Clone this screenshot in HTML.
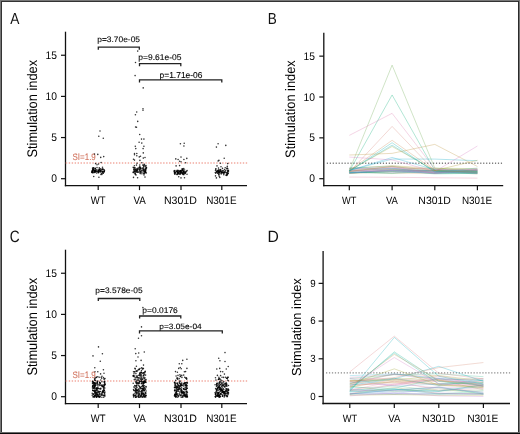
<!DOCTYPE html>
<html><head><meta charset="utf-8"><style>
html,body{margin:0;padding:0;background:#fff;}
svg{display:block;will-change:transform;}
text{font-family:"Liberation Sans",sans-serif;text-rendering:geometricPrecision;}
</style></head><body>
<svg width="520" height="434" viewBox="0 0 520 434">
<rect x="0" y="0" width="520" height="434" fill="#fff"/>
<rect x="0" y="0" width="520" height="2" fill="#777"/>
<rect x="0" y="1" width="520" height="1" fill="#333"/>
<rect x="0" y="0" width="2" height="434" fill="#777"/>
<rect x="1" y="1" width="1" height="433" fill="#333"/>
<rect x="518" y="0" width="2" height="434" fill="#777"/>
<rect x="518" y="1" width="1" height="433" fill="#2a2a2a"/>
<rect x="0" y="432" width="520" height="2" fill="#0a0a0a"/>
<rect x="0" y="432" width="520" height="1" fill="#6a6a6a"/>
<g font-family="Liberation Sans, sans-serif">
<line x1="65.50" y1="31.70" x2="65.50" y2="186.25" stroke="#111" stroke-width="1.3"/>
<line x1="64.85" y1="185.60" x2="247.00" y2="185.60" stroke="#111" stroke-width="1.3"/>
<line x1="61.00" y1="178.70" x2="65.50" y2="178.70" stroke="#111" stroke-width="1.2"/>
<text transform="translate(51.29 182.30) scale(0.930 1)" font-size="11.05" fill="#000">0</text>
<line x1="61.00" y1="137.55" x2="65.50" y2="137.55" stroke="#111" stroke-width="1.2"/>
<text transform="translate(51.32 141.15) scale(0.930 1)" font-size="11.05" fill="#000">5</text>
<line x1="61.00" y1="96.40" x2="65.50" y2="96.40" stroke="#111" stroke-width="1.2"/>
<text transform="translate(45.58 100.00) scale(0.930 1)" font-size="11.05" fill="#000">10</text>
<line x1="61.00" y1="55.25" x2="65.50" y2="55.25" stroke="#111" stroke-width="1.2"/>
<text transform="translate(45.61 58.85) scale(0.930 1)" font-size="11.05" fill="#000">15</text>
<line x1="98.20" y1="185.60" x2="98.20" y2="190.10" stroke="#111" stroke-width="1.2"/>
<text transform="translate(90.76 203.80) scale(0.877 1)" font-size="10.90" fill="#000">WT</text>
<line x1="139.50" y1="185.60" x2="139.50" y2="190.10" stroke="#111" stroke-width="1.2"/>
<text transform="translate(133.46 203.80) scale(0.900 1)" font-size="10.90" fill="#000">VA</text>
<line x1="181.00" y1="185.60" x2="181.00" y2="190.10" stroke="#111" stroke-width="1.2"/>
<text transform="translate(163.93 203.80) scale(0.969 1)" font-size="10.90" fill="#000">N301D</text>
<line x1="221.80" y1="185.60" x2="221.80" y2="190.10" stroke="#111" stroke-width="1.2"/>
<text transform="translate(206.19 203.80) scale(0.910 1)" font-size="10.90" fill="#000">N301E</text>
<text transform="translate(36.95 157.58) rotate(-90) scale(0.924 1)" font-size="13.88" fill="#000">Stimulation index</text>
<text transform="translate(10.37 23.70) scale(0.858 1)" font-size="15.99" fill="#111">A</text>
<line x1="65.50" y1="249.70" x2="65.50" y2="404.25" stroke="#111" stroke-width="1.3"/>
<line x1="64.85" y1="403.60" x2="247.00" y2="403.60" stroke="#111" stroke-width="1.3"/>
<line x1="61.00" y1="396.70" x2="65.50" y2="396.70" stroke="#111" stroke-width="1.2"/>
<text transform="translate(51.29 400.30) scale(0.930 1)" font-size="11.05" fill="#000">0</text>
<line x1="61.00" y1="355.55" x2="65.50" y2="355.55" stroke="#111" stroke-width="1.2"/>
<text transform="translate(51.32 359.15) scale(0.930 1)" font-size="11.05" fill="#000">5</text>
<line x1="61.00" y1="314.40" x2="65.50" y2="314.40" stroke="#111" stroke-width="1.2"/>
<text transform="translate(45.58 318.00) scale(0.930 1)" font-size="11.05" fill="#000">10</text>
<line x1="61.00" y1="273.25" x2="65.50" y2="273.25" stroke="#111" stroke-width="1.2"/>
<text transform="translate(45.61 276.85) scale(0.930 1)" font-size="11.05" fill="#000">15</text>
<line x1="98.20" y1="403.60" x2="98.20" y2="408.10" stroke="#111" stroke-width="1.2"/>
<text transform="translate(90.76 421.70) scale(0.888 1)" font-size="10.76" fill="#000">WT</text>
<line x1="139.50" y1="403.60" x2="139.50" y2="408.10" stroke="#111" stroke-width="1.2"/>
<text transform="translate(133.46 421.70) scale(0.912 1)" font-size="10.76" fill="#000">VA</text>
<line x1="181.00" y1="403.60" x2="181.00" y2="408.10" stroke="#111" stroke-width="1.2"/>
<text transform="translate(163.93 421.70) scale(0.982 1)" font-size="10.76" fill="#000">N301D</text>
<line x1="221.80" y1="403.60" x2="221.80" y2="408.10" stroke="#111" stroke-width="1.2"/>
<text transform="translate(206.19 421.70) scale(0.922 1)" font-size="10.76" fill="#000">N301E</text>
<text transform="translate(37.05 375.58) rotate(-90) scale(0.916 1)" font-size="14.01" fill="#000">Stimulation index</text>
<text transform="translate(9.80 241.70) scale(0.837 1)" font-size="16.42" fill="#111">C</text>
<line x1="323.80" y1="32.70" x2="323.80" y2="186.35" stroke="#111" stroke-width="1.3"/>
<line x1="323.15" y1="185.70" x2="503.20" y2="185.70" stroke="#111" stroke-width="1.3"/>
<line x1="319.30" y1="178.70" x2="323.80" y2="178.70" stroke="#111" stroke-width="1.2"/>
<text transform="translate(309.29 182.30) scale(0.930 1)" font-size="11.05" fill="#000">0</text>
<line x1="319.30" y1="137.85" x2="323.80" y2="137.85" stroke="#111" stroke-width="1.2"/>
<text transform="translate(309.32 141.45) scale(0.930 1)" font-size="11.05" fill="#000">5</text>
<line x1="319.30" y1="97.00" x2="323.80" y2="97.00" stroke="#111" stroke-width="1.2"/>
<text transform="translate(303.58 100.60) scale(0.930 1)" font-size="11.05" fill="#000">10</text>
<line x1="319.30" y1="56.15" x2="323.80" y2="56.15" stroke="#111" stroke-width="1.2"/>
<text transform="translate(303.61 59.75) scale(0.930 1)" font-size="11.05" fill="#000">15</text>
<line x1="349.30" y1="185.70" x2="349.30" y2="190.20" stroke="#111" stroke-width="1.2"/>
<text transform="translate(342.06 203.60) scale(0.870 1)" font-size="10.61" fill="#000">WT</text>
<line x1="392.10" y1="185.70" x2="392.10" y2="190.20" stroke="#111" stroke-width="1.2"/>
<text transform="translate(385.96 203.60) scale(0.894 1)" font-size="10.61" fill="#000">VA</text>
<line x1="434.80" y1="185.70" x2="434.80" y2="190.20" stroke="#111" stroke-width="1.2"/>
<text transform="translate(418.35 203.60) scale(0.983 1)" font-size="10.61" fill="#000">N301D</text>
<line x1="477.40" y1="185.70" x2="477.40" y2="190.20" stroke="#111" stroke-width="1.2"/>
<text transform="translate(461.89 203.60) scale(0.932 1)" font-size="10.61" fill="#000">N301E</text>
<text transform="translate(294.85 157.88) rotate(-90) scale(0.933 1)" font-size="13.74" fill="#000">Stimulation index</text>
<text transform="translate(267.69 23.70) scale(0.839 1)" font-size="16.13" fill="#111">B</text>
<line x1="323.10" y1="251.00" x2="323.10" y2="404.15" stroke="#111" stroke-width="1.3"/>
<line x1="322.45" y1="403.50" x2="510.00" y2="403.50" stroke="#111" stroke-width="1.3"/>
<line x1="318.60" y1="396.50" x2="323.10" y2="396.50" stroke="#111" stroke-width="1.2"/>
<text transform="translate(310.17 399.90) scale(0.930 1)" font-size="10.47" fill="#000">0</text>
<line x1="318.60" y1="358.79" x2="323.10" y2="358.79" stroke="#111" stroke-width="1.2"/>
<text transform="translate(310.22 362.19) scale(0.930 1)" font-size="10.47" fill="#000">3</text>
<line x1="318.60" y1="321.08" x2="323.10" y2="321.08" stroke="#111" stroke-width="1.2"/>
<text transform="translate(310.22 324.48) scale(0.930 1)" font-size="10.47" fill="#000">6</text>
<line x1="318.60" y1="283.37" x2="323.10" y2="283.37" stroke="#111" stroke-width="1.2"/>
<text transform="translate(310.25 286.77) scale(0.930 1)" font-size="10.47" fill="#000">9</text>
<line x1="349.80" y1="403.50" x2="349.80" y2="408.00" stroke="#111" stroke-width="1.2"/>
<text transform="translate(342.66 421.50) scale(0.876 1)" font-size="10.61" fill="#000">WT</text>
<line x1="394.30" y1="403.50" x2="394.30" y2="408.00" stroke="#111" stroke-width="1.2"/>
<text transform="translate(388.26 421.50) scale(0.909 1)" font-size="10.61" fill="#000">VA</text>
<line x1="438.80" y1="403.50" x2="438.80" y2="408.00" stroke="#111" stroke-width="1.2"/>
<text transform="translate(422.03 421.50) scale(1.002 1)" font-size="10.61" fill="#000">N301D</text>
<line x1="483.40" y1="403.50" x2="483.40" y2="408.00" stroke="#111" stroke-width="1.2"/>
<text transform="translate(467.16 421.50) scale(0.961 1)" font-size="10.61" fill="#000">N301E</text>
<text transform="translate(301.26 375.98) rotate(-90) scale(0.983 1)" font-size="13.06" fill="#000">Stimulation index</text>
<text transform="translate(267.51 241.70) scale(0.956 1)" font-size="16.42" fill="#111">D</text>
<path d="M65.80 162.30h1.4v1.4h-1.4zM68.75 162.30h1.4v1.4h-1.4zM71.70 162.30h1.4v1.4h-1.4zM74.65 162.30h1.4v1.4h-1.4zM77.60 162.30h1.4v1.4h-1.4zM80.55 162.30h1.4v1.4h-1.4zM83.50 162.30h1.4v1.4h-1.4zM86.45 162.30h1.4v1.4h-1.4zM89.40 162.30h1.4v1.4h-1.4zM92.35 162.30h1.4v1.4h-1.4zM95.30 162.30h1.4v1.4h-1.4zM98.25 162.30h1.4v1.4h-1.4zM101.20 162.30h1.4v1.4h-1.4zM104.15 162.30h1.4v1.4h-1.4zM107.10 162.30h1.4v1.4h-1.4zM110.05 162.30h1.4v1.4h-1.4zM113.00 162.30h1.4v1.4h-1.4zM115.95 162.30h1.4v1.4h-1.4zM118.90 162.30h1.4v1.4h-1.4zM121.85 162.30h1.4v1.4h-1.4zM124.80 162.30h1.4v1.4h-1.4zM127.75 162.30h1.4v1.4h-1.4zM130.70 162.30h1.4v1.4h-1.4zM133.65 162.30h1.4v1.4h-1.4zM136.60 162.30h1.4v1.4h-1.4zM139.55 162.30h1.4v1.4h-1.4zM142.50 162.30h1.4v1.4h-1.4zM145.45 162.30h1.4v1.4h-1.4zM148.40 162.30h1.4v1.4h-1.4zM151.35 162.30h1.4v1.4h-1.4zM154.30 162.30h1.4v1.4h-1.4zM157.25 162.30h1.4v1.4h-1.4zM160.20 162.30h1.4v1.4h-1.4zM163.15 162.30h1.4v1.4h-1.4zM166.10 162.30h1.4v1.4h-1.4zM169.05 162.30h1.4v1.4h-1.4zM172.00 162.30h1.4v1.4h-1.4zM174.95 162.30h1.4v1.4h-1.4zM177.90 162.30h1.4v1.4h-1.4zM180.85 162.30h1.4v1.4h-1.4zM183.80 162.30h1.4v1.4h-1.4zM186.75 162.30h1.4v1.4h-1.4zM189.70 162.30h1.4v1.4h-1.4zM192.65 162.30h1.4v1.4h-1.4zM195.60 162.30h1.4v1.4h-1.4zM198.55 162.30h1.4v1.4h-1.4zM201.50 162.30h1.4v1.4h-1.4zM204.45 162.30h1.4v1.4h-1.4zM207.40 162.30h1.4v1.4h-1.4zM210.35 162.30h1.4v1.4h-1.4zM213.30 162.30h1.4v1.4h-1.4zM216.25 162.30h1.4v1.4h-1.4zM219.20 162.30h1.4v1.4h-1.4zM222.15 162.30h1.4v1.4h-1.4zM225.10 162.30h1.4v1.4h-1.4zM228.05 162.30h1.4v1.4h-1.4zM231.00 162.30h1.4v1.4h-1.4zM233.95 162.30h1.4v1.4h-1.4zM236.90 162.30h1.4v1.4h-1.4zM239.85 162.30h1.4v1.4h-1.4zM242.80 162.30h1.4v1.4h-1.4zM245.75 162.30h1.4v1.4h-1.4z" fill="#f2aaa0" opacity="1.0"/>
<path d="M65.80 380.30h1.4v1.4h-1.4zM68.75 380.30h1.4v1.4h-1.4zM71.70 380.30h1.4v1.4h-1.4zM74.65 380.30h1.4v1.4h-1.4zM77.60 380.30h1.4v1.4h-1.4zM80.55 380.30h1.4v1.4h-1.4zM83.50 380.30h1.4v1.4h-1.4zM86.45 380.30h1.4v1.4h-1.4zM89.40 380.30h1.4v1.4h-1.4zM92.35 380.30h1.4v1.4h-1.4zM95.30 380.30h1.4v1.4h-1.4zM98.25 380.30h1.4v1.4h-1.4zM101.20 380.30h1.4v1.4h-1.4zM104.15 380.30h1.4v1.4h-1.4zM107.10 380.30h1.4v1.4h-1.4zM110.05 380.30h1.4v1.4h-1.4zM113.00 380.30h1.4v1.4h-1.4zM115.95 380.30h1.4v1.4h-1.4zM118.90 380.30h1.4v1.4h-1.4zM121.85 380.30h1.4v1.4h-1.4zM124.80 380.30h1.4v1.4h-1.4zM127.75 380.30h1.4v1.4h-1.4zM130.70 380.30h1.4v1.4h-1.4zM133.65 380.30h1.4v1.4h-1.4zM136.60 380.30h1.4v1.4h-1.4zM139.55 380.30h1.4v1.4h-1.4zM142.50 380.30h1.4v1.4h-1.4zM145.45 380.30h1.4v1.4h-1.4zM148.40 380.30h1.4v1.4h-1.4zM151.35 380.30h1.4v1.4h-1.4zM154.30 380.30h1.4v1.4h-1.4zM157.25 380.30h1.4v1.4h-1.4zM160.20 380.30h1.4v1.4h-1.4zM163.15 380.30h1.4v1.4h-1.4zM166.10 380.30h1.4v1.4h-1.4zM169.05 380.30h1.4v1.4h-1.4zM172.00 380.30h1.4v1.4h-1.4zM174.95 380.30h1.4v1.4h-1.4zM177.90 380.30h1.4v1.4h-1.4zM180.85 380.30h1.4v1.4h-1.4zM183.80 380.30h1.4v1.4h-1.4zM186.75 380.30h1.4v1.4h-1.4zM189.70 380.30h1.4v1.4h-1.4zM192.65 380.30h1.4v1.4h-1.4zM195.60 380.30h1.4v1.4h-1.4zM198.55 380.30h1.4v1.4h-1.4zM201.50 380.30h1.4v1.4h-1.4zM204.45 380.30h1.4v1.4h-1.4zM207.40 380.30h1.4v1.4h-1.4zM210.35 380.30h1.4v1.4h-1.4zM213.30 380.30h1.4v1.4h-1.4zM216.25 380.30h1.4v1.4h-1.4zM219.20 380.30h1.4v1.4h-1.4zM222.15 380.30h1.4v1.4h-1.4zM225.10 380.30h1.4v1.4h-1.4zM228.05 380.30h1.4v1.4h-1.4zM231.00 380.30h1.4v1.4h-1.4zM233.95 380.30h1.4v1.4h-1.4zM236.90 380.30h1.4v1.4h-1.4zM239.85 380.30h1.4v1.4h-1.4zM242.80 380.30h1.4v1.4h-1.4zM245.75 380.30h1.4v1.4h-1.4z" fill="#f2aaa0" opacity="1.0"/>
<path d="M326.80 162.62h1.2v1.35h-1.2zM329.75 162.62h1.2v1.35h-1.2zM332.70 162.62h1.2v1.35h-1.2zM335.65 162.62h1.2v1.35h-1.2zM338.60 162.62h1.2v1.35h-1.2zM341.55 162.62h1.2v1.35h-1.2zM344.50 162.62h1.2v1.35h-1.2zM347.45 162.62h1.2v1.35h-1.2zM350.40 162.62h1.2v1.35h-1.2zM353.35 162.62h1.2v1.35h-1.2zM356.30 162.62h1.2v1.35h-1.2zM359.25 162.62h1.2v1.35h-1.2zM362.20 162.62h1.2v1.35h-1.2zM365.15 162.62h1.2v1.35h-1.2zM368.10 162.62h1.2v1.35h-1.2zM371.05 162.62h1.2v1.35h-1.2zM374.00 162.62h1.2v1.35h-1.2zM376.95 162.62h1.2v1.35h-1.2zM379.90 162.62h1.2v1.35h-1.2zM382.85 162.62h1.2v1.35h-1.2zM385.80 162.62h1.2v1.35h-1.2zM388.75 162.62h1.2v1.35h-1.2zM391.70 162.62h1.2v1.35h-1.2zM394.65 162.62h1.2v1.35h-1.2zM397.60 162.62h1.2v1.35h-1.2zM400.55 162.62h1.2v1.35h-1.2zM403.50 162.62h1.2v1.35h-1.2zM406.45 162.62h1.2v1.35h-1.2zM409.40 162.62h1.2v1.35h-1.2zM412.35 162.62h1.2v1.35h-1.2zM415.30 162.62h1.2v1.35h-1.2zM418.25 162.62h1.2v1.35h-1.2zM421.20 162.62h1.2v1.35h-1.2zM424.15 162.62h1.2v1.35h-1.2zM427.10 162.62h1.2v1.35h-1.2zM430.05 162.62h1.2v1.35h-1.2zM433.00 162.62h1.2v1.35h-1.2zM435.95 162.62h1.2v1.35h-1.2zM438.90 162.62h1.2v1.35h-1.2zM441.85 162.62h1.2v1.35h-1.2zM444.80 162.62h1.2v1.35h-1.2zM447.75 162.62h1.2v1.35h-1.2zM450.70 162.62h1.2v1.35h-1.2zM453.65 162.62h1.2v1.35h-1.2zM456.60 162.62h1.2v1.35h-1.2zM459.55 162.62h1.2v1.35h-1.2zM462.50 162.62h1.2v1.35h-1.2zM465.45 162.62h1.2v1.35h-1.2zM468.40 162.62h1.2v1.35h-1.2zM471.35 162.62h1.2v1.35h-1.2zM474.30 162.62h1.2v1.35h-1.2zM477.25 162.62h1.2v1.35h-1.2zM480.20 162.62h1.2v1.35h-1.2zM483.15 162.62h1.2v1.35h-1.2zM486.10 162.62h1.2v1.35h-1.2zM489.05 162.62h1.2v1.35h-1.2zM492.00 162.62h1.2v1.35h-1.2zM494.95 162.62h1.2v1.35h-1.2zM497.90 162.62h1.2v1.35h-1.2zM500.85 162.62h1.2v1.35h-1.2z" fill="#7e7e7e" opacity="1.0"/>
<path d="M326.00 372.22h1.25v1.35h-1.25zM328.95 372.22h1.25v1.35h-1.25zM331.90 372.22h1.25v1.35h-1.25zM334.85 372.22h1.25v1.35h-1.25zM337.80 372.22h1.25v1.35h-1.25zM340.75 372.22h1.25v1.35h-1.25zM343.70 372.22h1.25v1.35h-1.25zM346.65 372.22h1.25v1.35h-1.25zM349.60 372.22h1.25v1.35h-1.25zM352.55 372.22h1.25v1.35h-1.25zM355.50 372.22h1.25v1.35h-1.25zM358.45 372.22h1.25v1.35h-1.25zM361.40 372.22h1.25v1.35h-1.25zM364.35 372.22h1.25v1.35h-1.25zM367.30 372.22h1.25v1.35h-1.25zM370.25 372.22h1.25v1.35h-1.25zM373.20 372.22h1.25v1.35h-1.25zM376.15 372.22h1.25v1.35h-1.25zM379.10 372.22h1.25v1.35h-1.25zM382.05 372.22h1.25v1.35h-1.25zM385.00 372.22h1.25v1.35h-1.25zM387.95 372.22h1.25v1.35h-1.25zM390.90 372.22h1.25v1.35h-1.25zM393.85 372.22h1.25v1.35h-1.25zM396.80 372.22h1.25v1.35h-1.25zM399.75 372.22h1.25v1.35h-1.25zM402.70 372.22h1.25v1.35h-1.25zM405.65 372.22h1.25v1.35h-1.25zM408.60 372.22h1.25v1.35h-1.25zM411.55 372.22h1.25v1.35h-1.25zM414.50 372.22h1.25v1.35h-1.25zM417.45 372.22h1.25v1.35h-1.25zM420.40 372.22h1.25v1.35h-1.25zM423.35 372.22h1.25v1.35h-1.25zM426.30 372.22h1.25v1.35h-1.25zM429.25 372.22h1.25v1.35h-1.25zM432.20 372.22h1.25v1.35h-1.25zM435.15 372.22h1.25v1.35h-1.25zM438.10 372.22h1.25v1.35h-1.25zM441.05 372.22h1.25v1.35h-1.25zM444.00 372.22h1.25v1.35h-1.25zM446.95 372.22h1.25v1.35h-1.25zM449.90 372.22h1.25v1.35h-1.25zM452.85 372.22h1.25v1.35h-1.25zM455.80 372.22h1.25v1.35h-1.25zM458.75 372.22h1.25v1.35h-1.25zM461.70 372.22h1.25v1.35h-1.25zM464.65 372.22h1.25v1.35h-1.25zM467.60 372.22h1.25v1.35h-1.25zM470.55 372.22h1.25v1.35h-1.25zM473.50 372.22h1.25v1.35h-1.25zM476.45 372.22h1.25v1.35h-1.25zM479.40 372.22h1.25v1.35h-1.25zM482.35 372.22h1.25v1.35h-1.25zM485.30 372.22h1.25v1.35h-1.25zM488.25 372.22h1.25v1.35h-1.25zM491.20 372.22h1.25v1.35h-1.25zM494.15 372.22h1.25v1.35h-1.25zM497.10 372.22h1.25v1.35h-1.25zM500.05 372.22h1.25v1.35h-1.25zM503.00 372.22h1.25v1.35h-1.25zM505.95 372.22h1.25v1.35h-1.25zM508.90 372.22h1.25v1.35h-1.25z" fill="#8a8a8a" opacity="1.0"/>
<text transform="translate(72.54 160.30) scale(0.856 1)" font-size="9.30" fill="#d27560" stroke="#d27560" stroke-width="0.1">SI=1.9</text>
<text transform="translate(72.54 378.30) scale(0.856 1)" font-size="9.30" fill="#d27560" stroke="#d27560" stroke-width="0.1">SI=1.9</text>
<path d="M98.30 49.70V47.10H139.30V49.70" fill="none" stroke="#222" stroke-width="1.3"/>
<path d="M139.50 66.20V63.60H180.80V66.20" fill="none" stroke="#222" stroke-width="1.3"/>
<path d="M139.50 82.50V79.90H221.80V82.50" fill="none" stroke="#222" stroke-width="1.3"/>
<text transform="translate(97.26 42.10) scale(1.052 1)" font-size="7.99" fill="#000" stroke="#000" stroke-width="0.1">p=3.70e-05</text>
<text transform="translate(138.36 60.30) scale(1.025 1)" font-size="8.28" fill="#000" stroke="#000" stroke-width="0.1">p=9.61e-05</text>
<text transform="translate(159.56 77.70) scale(0.983 1)" font-size="8.58" fill="#000" stroke="#000" stroke-width="0.1">p=1.71e-06</text>
<path d="M98.30 301.10V298.50H139.80V301.10" fill="none" stroke="#222" stroke-width="1.3"/>
<path d="M139.60 318.60V316.00H180.80V318.60" fill="none" stroke="#222" stroke-width="1.3"/>
<path d="M139.50 333.40V330.80H222.30V333.40" fill="none" stroke="#222" stroke-width="1.3"/>
<text transform="translate(95.36 293.20) scale(1.048 1)" font-size="7.99" fill="#000" stroke="#000" stroke-width="0.1">p=3.578e-05</text>
<text transform="translate(142.36 312.70) scale(1.021 1)" font-size="8.28" fill="#000" stroke="#000" stroke-width="0.1">p=0.0176</text>
<text transform="translate(159.27 328.90) scale(1.084 1)" font-size="7.70" fill="#000" stroke="#000" stroke-width="0.1">p=3.05e-04</text>
<g fill="#000" fill-opacity="0.8"><circle cx="100.0" cy="131.0" r="0.78"/><circle cx="98.8" cy="136.2" r="0.78"/><circle cx="103.3" cy="138.3" r="0.78"/><circle cx="94.5" cy="154.0" r="0.78"/><circle cx="97.8" cy="154.4" r="0.78"/><circle cx="100.7" cy="157.4" r="0.78"/><circle cx="103.7" cy="156.6" r="0.78"/><circle cx="101.1" cy="162.5" r="0.78"/><circle cx="95.6" cy="163.6" r="0.78"/><circle cx="97.0" cy="164.7" r="0.78"/><circle cx="98.5" cy="164.0" r="0.78"/><circle cx="93.7" cy="176.5" r="0.78"/><circle cx="98.9" cy="177.2" r="0.78"/><circle cx="137.7" cy="51.1" r="0.78"/><circle cx="135.5" cy="62.5" r="0.78"/><circle cx="135.1" cy="75.6" r="0.78"/><circle cx="143.2" cy="87.9" r="0.78"/><circle cx="143.0" cy="108.7" r="0.78"/><circle cx="143.0" cy="110.3" r="0.78"/><circle cx="136.7" cy="112.0" r="0.78"/><circle cx="135.4" cy="114.7" r="0.78"/><circle cx="137.7" cy="121.4" r="0.78"/><circle cx="135.6" cy="127.0" r="0.78"/><circle cx="136.5" cy="127.3" r="0.78"/><circle cx="139.7" cy="134.5" r="0.78"/><circle cx="141.5" cy="139.1" r="0.78"/><circle cx="143.9" cy="139.1" r="0.78"/><circle cx="139.1" cy="142.2" r="0.78"/><circle cx="141.8" cy="143.1" r="0.78"/><circle cx="135.3" cy="146.3" r="0.78"/><circle cx="143.9" cy="146.3" r="0.78"/><circle cx="135.8" cy="148.6" r="0.78"/><circle cx="143.1" cy="148.6" r="0.78"/><circle cx="143.3" cy="152.9" r="0.78"/><circle cx="134.5" cy="153.5" r="0.78"/><circle cx="136.8" cy="153.5" r="0.78"/><circle cx="134.5" cy="154.8" r="0.78"/><circle cx="136.8" cy="155.8" r="0.78"/><circle cx="139.3" cy="156.9" r="0.78"/><circle cx="140.5" cy="156.3" r="0.78"/><circle cx="143.3" cy="158.1" r="0.78"/><circle cx="145.0" cy="157.5" r="0.78"/><circle cx="133.5" cy="159.2" r="0.78"/><circle cx="134.5" cy="160.1" r="0.78"/><circle cx="139.9" cy="160.4" r="0.78"/><circle cx="137.0" cy="163.3" r="0.78"/><circle cx="141.8" cy="162.7" r="0.78"/><circle cx="133.5" cy="177.4" r="0.78"/><circle cx="137.6" cy="177.7" r="0.78"/><circle cx="145.0" cy="177.1" r="0.78"/><circle cx="180.4" cy="143.7" r="0.78"/><circle cx="184.2" cy="143.3" r="0.78"/><circle cx="183.9" cy="146.0" r="0.78"/><circle cx="181.0" cy="157.1" r="0.78"/><circle cx="175.8" cy="158.9" r="0.78"/><circle cx="178.1" cy="159.5" r="0.78"/><circle cx="183.9" cy="159.5" r="0.78"/><circle cx="186.8" cy="158.4" r="0.78"/><circle cx="179.6" cy="161.3" r="0.78"/><circle cx="181.0" cy="161.8" r="0.78"/><circle cx="185.6" cy="162.7" r="0.78"/><circle cx="176.1" cy="165.9" r="0.78"/><circle cx="179.6" cy="165.6" r="0.78"/><circle cx="181.0" cy="177.9" r="0.78"/><circle cx="184.5" cy="177.7" r="0.78"/><circle cx="178.7" cy="176.8" r="0.78"/><circle cx="218.1" cy="143.7" r="0.78"/><circle cx="216.4" cy="147.1" r="0.78"/><circle cx="225.8" cy="145.4" r="0.78"/><circle cx="224.2" cy="158.3" r="0.78"/><circle cx="218.1" cy="161.0" r="0.78"/><circle cx="218.9" cy="160.4" r="0.78"/><circle cx="220.4" cy="163.3" r="0.78"/><circle cx="227.7" cy="163.6" r="0.78"/><circle cx="217.0" cy="165.9" r="0.78"/><circle cx="221.0" cy="166.7" r="0.78"/><circle cx="227.3" cy="166.4" r="0.78"/><circle cx="216.4" cy="177.9" r="0.78"/><circle cx="219.8" cy="177.4" r="0.78"/><circle cx="98.5" cy="346.9" r="0.78"/><circle cx="93.0" cy="355.9" r="0.78"/><circle cx="102.4" cy="353.8" r="0.78"/><circle cx="100.3" cy="361.2" r="0.78"/><circle cx="94.8" cy="367.7" r="0.78"/><circle cx="103.4" cy="369.7" r="0.78"/><circle cx="95.0" cy="371.8" r="0.78"/><circle cx="97.8" cy="371.8" r="0.78"/><circle cx="100.6" cy="373.9" r="0.78"/><circle cx="104.0" cy="373.2" r="0.78"/><circle cx="97.8" cy="376.7" r="0.78"/><circle cx="99.2" cy="377.3" r="0.78"/><circle cx="102.0" cy="376.2" r="0.78"/><circle cx="142.9" cy="307.5" r="0.78"/><circle cx="141.5" cy="326.9" r="0.78"/><circle cx="141.5" cy="335.8" r="0.78"/><circle cx="138.5" cy="338.2" r="0.78"/><circle cx="135.2" cy="348.7" r="0.78"/><circle cx="135.8" cy="353.6" r="0.78"/><circle cx="138.7" cy="353.0" r="0.78"/><circle cx="144.3" cy="352.0" r="0.78"/><circle cx="138.0" cy="357.0" r="0.78"/><circle cx="135.9" cy="360.7" r="0.78"/><circle cx="141.1" cy="360.4" r="0.78"/><circle cx="136.4" cy="366.2" r="0.78"/><circle cx="143.5" cy="365.1" r="0.78"/><circle cx="140.0" cy="368.5" r="0.78"/><circle cx="141.6" cy="367.9" r="0.78"/><circle cx="145.2" cy="371.4" r="0.78"/><circle cx="186.9" cy="359.3" r="0.78"/><circle cx="182.7" cy="360.4" r="0.78"/><circle cx="179.3" cy="363.7" r="0.78"/><circle cx="181.8" cy="363.7" r="0.78"/><circle cx="178.7" cy="368.4" r="0.78"/><circle cx="180.2" cy="367.5" r="0.78"/><circle cx="181.2" cy="368.8" r="0.78"/><circle cx="186.9" cy="368.4" r="0.78"/><circle cx="175.5" cy="371.6" r="0.78"/><circle cx="177.4" cy="372.2" r="0.78"/><circle cx="184.4" cy="371.8" r="0.78"/><circle cx="185.6" cy="371.6" r="0.78"/><circle cx="176.1" cy="376.0" r="0.78"/><circle cx="178.0" cy="375.4" r="0.78"/><circle cx="179.9" cy="374.7" r="0.78"/><circle cx="181.8" cy="375.4" r="0.78"/><circle cx="183.7" cy="375.1" r="0.78"/><circle cx="225.0" cy="352.6" r="0.78"/><circle cx="218.7" cy="358.3" r="0.78"/><circle cx="219.9" cy="360.8" r="0.78"/><circle cx="225.0" cy="361.5" r="0.78"/><circle cx="216.8" cy="369.0" r="0.78"/><circle cx="219.7" cy="368.4" r="0.78"/><circle cx="226.3" cy="369.0" r="0.78"/><circle cx="228.2" cy="366.5" r="0.78"/><circle cx="220.6" cy="371.6" r="0.78"/><circle cx="222.7" cy="371.8" r="0.78"/><circle cx="224.4" cy="374.1" r="0.78"/><circle cx="217.4" cy="375.4" r="0.78"/><circle cx="220.6" cy="375.6" r="0.78"/><circle cx="228.2" cy="377.3" r="0.78"/><circle cx="100.3" cy="170.3" r="0.78"/><circle cx="92.7" cy="171.7" r="0.78"/><circle cx="92.6" cy="169.1" r="0.78"/><circle cx="98.4" cy="170.4" r="0.78"/><circle cx="92.7" cy="172.7" r="0.78"/><circle cx="93.0" cy="171.3" r="0.78"/><circle cx="93.4" cy="167.8" r="0.78"/><circle cx="94.7" cy="172.4" r="0.78"/><circle cx="99.3" cy="167.7" r="0.78"/><circle cx="97.0" cy="167.6" r="0.78"/><circle cx="103.0" cy="171.4" r="0.78"/><circle cx="95.6" cy="170.7" r="0.78"/><circle cx="95.8" cy="171.4" r="0.78"/><circle cx="102.4" cy="171.5" r="0.78"/><circle cx="100.1" cy="171.8" r="0.78"/><circle cx="96.6" cy="173.0" r="0.78"/><circle cx="92.6" cy="170.2" r="0.78"/><circle cx="94.5" cy="170.6" r="0.78"/><circle cx="95.9" cy="170.0" r="0.78"/><circle cx="99.4" cy="169.1" r="0.78"/><circle cx="102.1" cy="169.3" r="0.78"/><circle cx="100.9" cy="171.2" r="0.78"/><circle cx="98.6" cy="170.9" r="0.78"/><circle cx="103.2" cy="173.2" r="0.78"/><circle cx="104.5" cy="170.6" r="0.78"/><circle cx="93.3" cy="169.3" r="0.78"/><circle cx="93.8" cy="168.1" r="0.78"/><circle cx="98.2" cy="172.3" r="0.78"/><circle cx="101.7" cy="173.4" r="0.78"/><circle cx="99.2" cy="171.5" r="0.78"/><circle cx="100.8" cy="171.9" r="0.78"/><circle cx="99.5" cy="169.7" r="0.78"/><circle cx="102.7" cy="169.0" r="0.78"/><circle cx="104.1" cy="169.8" r="0.78"/><circle cx="92.6" cy="168.1" r="0.78"/><circle cx="100.9" cy="171.2" r="0.78"/><circle cx="102.5" cy="167.3" r="0.78"/><circle cx="100.5" cy="170.4" r="0.78"/><circle cx="92.1" cy="172.6" r="0.78"/><circle cx="93.3" cy="169.7" r="0.78"/><circle cx="92.6" cy="171.1" r="0.78"/><circle cx="95.0" cy="170.9" r="0.78"/><circle cx="96.9" cy="169.8" r="0.78"/><circle cx="97.6" cy="171.3" r="0.78"/><circle cx="98.9" cy="170.3" r="0.78"/><circle cx="103.0" cy="173.3" r="0.78"/><circle cx="95.4" cy="168.5" r="0.78"/><circle cx="103.3" cy="169.3" r="0.78"/><circle cx="104.3" cy="171.7" r="0.78"/><circle cx="94.8" cy="171.5" r="0.78"/><circle cx="94.8" cy="171.7" r="0.78"/><circle cx="95.2" cy="168.4" r="0.78"/><circle cx="91.9" cy="171.0" r="0.78"/><circle cx="99.2" cy="169.3" r="0.78"/><circle cx="104.2" cy="171.7" r="0.78"/><circle cx="99.8" cy="170.0" r="0.78"/><circle cx="100.6" cy="168.8" r="0.78"/><circle cx="101.9" cy="174.5" r="0.78"/><circle cx="103.2" cy="172.1" r="0.78"/><circle cx="97.0" cy="171.3" r="0.78"/><circle cx="93.1" cy="169.1" r="0.78"/><circle cx="92.7" cy="170.4" r="0.78"/><circle cx="94.5" cy="170.3" r="0.78"/><circle cx="92.5" cy="171.7" r="0.78"/><circle cx="91.8" cy="172.2" r="0.78"/><circle cx="96.5" cy="171.3" r="0.78"/><circle cx="92.1" cy="171.5" r="0.78"/><circle cx="93.7" cy="172.6" r="0.78"/><circle cx="95.1" cy="169.0" r="0.78"/><circle cx="93.4" cy="169.8" r="0.78"/><circle cx="102.8" cy="172.2" r="0.78"/><circle cx="98.1" cy="172.8" r="0.78"/><circle cx="92.9" cy="170.7" r="0.78"/><circle cx="95.2" cy="172.1" r="0.78"/><circle cx="102.6" cy="171.8" r="0.78"/><circle cx="104.2" cy="171.0" r="0.78"/><circle cx="98.7" cy="171.1" r="0.78"/><circle cx="92.2" cy="172.2" r="0.78"/><circle cx="98.7" cy="172.6" r="0.78"/><circle cx="100.9" cy="174.4" r="0.78"/><circle cx="95.2" cy="170.3" r="0.78"/><circle cx="101.8" cy="170.1" r="0.78"/><circle cx="98.7" cy="171.6" r="0.78"/><circle cx="94.7" cy="171.1" r="0.78"/><circle cx="102.3" cy="169.2" r="0.78"/><circle cx="144.0" cy="174.9" r="0.78"/><circle cx="144.1" cy="169.5" r="0.78"/><circle cx="140.0" cy="169.9" r="0.78"/><circle cx="137.8" cy="168.2" r="0.78"/><circle cx="136.8" cy="170.6" r="0.78"/><circle cx="136.5" cy="170.1" r="0.78"/><circle cx="139.1" cy="167.8" r="0.78"/><circle cx="146.0" cy="167.1" r="0.78"/><circle cx="136.1" cy="168.8" r="0.78"/><circle cx="135.7" cy="171.3" r="0.78"/><circle cx="145.2" cy="171.0" r="0.78"/><circle cx="144.4" cy="173.4" r="0.78"/><circle cx="143.9" cy="166.4" r="0.78"/><circle cx="134.2" cy="170.5" r="0.78"/><circle cx="143.6" cy="167.1" r="0.78"/><circle cx="143.2" cy="165.3" r="0.78"/><circle cx="143.7" cy="168.4" r="0.78"/><circle cx="137.5" cy="170.2" r="0.78"/><circle cx="138.4" cy="172.1" r="0.78"/><circle cx="142.9" cy="165.0" r="0.78"/><circle cx="135.3" cy="173.5" r="0.78"/><circle cx="145.3" cy="171.0" r="0.78"/><circle cx="144.0" cy="171.0" r="0.78"/><circle cx="146.3" cy="172.9" r="0.78"/><circle cx="141.9" cy="173.8" r="0.78"/><circle cx="134.8" cy="168.1" r="0.78"/><circle cx="133.2" cy="172.6" r="0.78"/><circle cx="140.2" cy="173.6" r="0.78"/><circle cx="145.7" cy="169.3" r="0.78"/><circle cx="144.2" cy="165.3" r="0.78"/><circle cx="135.9" cy="172.1" r="0.78"/><circle cx="136.3" cy="170.0" r="0.78"/><circle cx="141.0" cy="172.1" r="0.78"/><circle cx="134.8" cy="169.8" r="0.78"/><circle cx="145.4" cy="172.6" r="0.78"/><circle cx="140.9" cy="168.3" r="0.78"/><circle cx="145.3" cy="172.2" r="0.78"/><circle cx="139.8" cy="165.1" r="0.78"/><circle cx="140.2" cy="172.7" r="0.78"/><circle cx="139.0" cy="169.5" r="0.78"/><circle cx="135.5" cy="169.9" r="0.78"/><circle cx="135.3" cy="174.5" r="0.78"/><circle cx="139.4" cy="170.1" r="0.78"/><circle cx="137.4" cy="169.5" r="0.78"/><circle cx="140.0" cy="166.8" r="0.78"/><circle cx="134.4" cy="165.8" r="0.78"/><circle cx="140.6" cy="168.5" r="0.78"/><circle cx="143.5" cy="170.0" r="0.78"/><circle cx="139.9" cy="172.0" r="0.78"/><circle cx="145.4" cy="166.1" r="0.78"/><circle cx="139.0" cy="168.4" r="0.78"/><circle cx="140.0" cy="167.7" r="0.78"/><circle cx="142.4" cy="168.1" r="0.78"/><circle cx="139.5" cy="167.0" r="0.78"/><circle cx="145.8" cy="170.9" r="0.78"/><circle cx="145.8" cy="168.4" r="0.78"/><circle cx="136.5" cy="165.1" r="0.78"/><circle cx="144.4" cy="164.4" r="0.78"/><circle cx="134.9" cy="167.8" r="0.78"/><circle cx="134.0" cy="172.0" r="0.78"/><circle cx="136.3" cy="171.9" r="0.78"/><circle cx="143.7" cy="173.4" r="0.78"/><circle cx="145.2" cy="171.7" r="0.78"/><circle cx="142.0" cy="172.3" r="0.78"/><circle cx="134.9" cy="173.3" r="0.78"/><circle cx="136.0" cy="174.9" r="0.78"/><circle cx="146.0" cy="165.6" r="0.78"/><circle cx="146.5" cy="167.7" r="0.78"/><circle cx="144.3" cy="171.7" r="0.78"/><circle cx="140.0" cy="171.4" r="0.78"/><circle cx="137.6" cy="172.3" r="0.78"/><circle cx="142.8" cy="170.7" r="0.78"/><circle cx="133.3" cy="172.1" r="0.78"/><circle cx="133.2" cy="167.4" r="0.78"/><circle cx="137.5" cy="169.1" r="0.78"/><circle cx="133.9" cy="167.8" r="0.78"/><circle cx="146.4" cy="167.9" r="0.78"/><circle cx="134.4" cy="171.6" r="0.78"/><circle cx="143.6" cy="169.9" r="0.78"/><circle cx="136.7" cy="170.7" r="0.78"/><circle cx="145.4" cy="171.8" r="0.78"/><circle cx="144.1" cy="171.9" r="0.78"/><circle cx="145.5" cy="169.9" r="0.78"/><circle cx="140.8" cy="171.4" r="0.78"/><circle cx="133.8" cy="169.7" r="0.78"/><circle cx="142.4" cy="169.0" r="0.78"/><circle cx="145.8" cy="169.1" r="0.78"/><circle cx="141.6" cy="170.4" r="0.78"/><circle cx="144.6" cy="170.3" r="0.78"/><circle cx="133.9" cy="169.0" r="0.78"/><circle cx="137.6" cy="171.8" r="0.78"/><circle cx="140.5" cy="167.9" r="0.78"/><circle cx="134.8" cy="171.8" r="0.78"/><circle cx="140.2" cy="169.1" r="0.78"/><circle cx="135.2" cy="170.1" r="0.78"/><circle cx="174.9" cy="172.6" r="0.78"/><circle cx="178.2" cy="172.2" r="0.78"/><circle cx="184.1" cy="173.2" r="0.78"/><circle cx="176.5" cy="171.3" r="0.78"/><circle cx="178.7" cy="173.8" r="0.78"/><circle cx="174.4" cy="173.1" r="0.78"/><circle cx="183.8" cy="172.0" r="0.78"/><circle cx="180.4" cy="170.7" r="0.78"/><circle cx="186.4" cy="171.4" r="0.78"/><circle cx="179.9" cy="174.3" r="0.78"/><circle cx="180.7" cy="173.8" r="0.78"/><circle cx="180.8" cy="172.7" r="0.78"/><circle cx="183.2" cy="170.3" r="0.78"/><circle cx="185.1" cy="173.4" r="0.78"/><circle cx="183.5" cy="171.6" r="0.78"/><circle cx="178.8" cy="170.6" r="0.78"/><circle cx="174.9" cy="170.5" r="0.78"/><circle cx="183.9" cy="172.3" r="0.78"/><circle cx="177.5" cy="172.3" r="0.78"/><circle cx="185.2" cy="172.2" r="0.78"/><circle cx="185.6" cy="172.4" r="0.78"/><circle cx="177.4" cy="171.1" r="0.78"/><circle cx="178.0" cy="170.6" r="0.78"/><circle cx="180.0" cy="170.8" r="0.78"/><circle cx="177.6" cy="172.1" r="0.78"/><circle cx="181.4" cy="170.7" r="0.78"/><circle cx="178.3" cy="172.0" r="0.78"/><circle cx="179.2" cy="171.8" r="0.78"/><circle cx="180.4" cy="171.9" r="0.78"/><circle cx="180.8" cy="170.6" r="0.78"/><circle cx="174.3" cy="171.8" r="0.78"/><circle cx="179.4" cy="171.7" r="0.78"/><circle cx="174.7" cy="172.6" r="0.78"/><circle cx="177.2" cy="173.3" r="0.78"/><circle cx="181.9" cy="172.0" r="0.78"/><circle cx="182.8" cy="169.0" r="0.78"/><circle cx="183.6" cy="171.3" r="0.78"/><circle cx="178.5" cy="173.1" r="0.78"/><circle cx="187.1" cy="170.6" r="0.78"/><circle cx="182.6" cy="173.4" r="0.78"/><circle cx="174.8" cy="174.1" r="0.78"/><circle cx="182.4" cy="173.7" r="0.78"/><circle cx="183.8" cy="168.6" r="0.78"/><circle cx="181.1" cy="172.2" r="0.78"/><circle cx="180.8" cy="170.9" r="0.78"/><circle cx="185.0" cy="173.4" r="0.78"/><circle cx="181.9" cy="169.1" r="0.78"/><circle cx="183.3" cy="173.9" r="0.78"/><circle cx="177.2" cy="170.2" r="0.78"/><circle cx="178.9" cy="172.7" r="0.78"/><circle cx="175.6" cy="172.0" r="0.78"/><circle cx="182.4" cy="172.9" r="0.78"/><circle cx="182.4" cy="169.9" r="0.78"/><circle cx="174.2" cy="170.9" r="0.78"/><circle cx="184.6" cy="170.0" r="0.78"/><circle cx="181.2" cy="171.8" r="0.78"/><circle cx="182.8" cy="169.7" r="0.78"/><circle cx="177.5" cy="174.4" r="0.78"/><circle cx="175.2" cy="172.9" r="0.78"/><circle cx="176.9" cy="171.5" r="0.78"/><circle cx="183.9" cy="174.6" r="0.78"/><circle cx="179.2" cy="173.8" r="0.78"/><circle cx="180.5" cy="171.5" r="0.78"/><circle cx="182.3" cy="170.6" r="0.78"/><circle cx="182.6" cy="169.1" r="0.78"/><circle cx="177.5" cy="172.7" r="0.78"/><circle cx="183.9" cy="172.3" r="0.78"/><circle cx="174.4" cy="171.0" r="0.78"/><circle cx="175.0" cy="173.9" r="0.78"/><circle cx="183.3" cy="171.5" r="0.78"/><circle cx="183.1" cy="174.4" r="0.78"/><circle cx="180.3" cy="171.3" r="0.78"/><circle cx="180.3" cy="173.8" r="0.78"/><circle cx="176.8" cy="174.5" r="0.78"/><circle cx="187.0" cy="174.3" r="0.78"/><circle cx="180.2" cy="172.1" r="0.78"/><circle cx="184.9" cy="171.7" r="0.78"/><circle cx="177.7" cy="173.7" r="0.78"/><circle cx="176.9" cy="171.4" r="0.78"/><circle cx="181.8" cy="172.9" r="0.78"/><circle cx="217.1" cy="171.2" r="0.78"/><circle cx="217.0" cy="170.9" r="0.78"/><circle cx="227.0" cy="172.7" r="0.78"/><circle cx="224.6" cy="169.5" r="0.78"/><circle cx="221.7" cy="172.2" r="0.78"/><circle cx="215.5" cy="175.9" r="0.78"/><circle cx="221.2" cy="174.0" r="0.78"/><circle cx="219.2" cy="171.7" r="0.78"/><circle cx="219.4" cy="172.8" r="0.78"/><circle cx="226.4" cy="173.1" r="0.78"/><circle cx="226.4" cy="175.0" r="0.78"/><circle cx="216.8" cy="171.7" r="0.78"/><circle cx="227.2" cy="174.5" r="0.78"/><circle cx="219.1" cy="170.2" r="0.78"/><circle cx="228.5" cy="170.2" r="0.78"/><circle cx="223.0" cy="173.1" r="0.78"/><circle cx="218.9" cy="170.3" r="0.78"/><circle cx="215.8" cy="173.3" r="0.78"/><circle cx="219.0" cy="174.7" r="0.78"/><circle cx="227.6" cy="173.9" r="0.78"/><circle cx="222.0" cy="171.7" r="0.78"/><circle cx="217.7" cy="173.2" r="0.78"/><circle cx="227.0" cy="168.1" r="0.78"/><circle cx="226.0" cy="175.3" r="0.78"/><circle cx="227.7" cy="168.6" r="0.78"/><circle cx="222.5" cy="168.4" r="0.78"/><circle cx="224.9" cy="171.5" r="0.78"/><circle cx="221.2" cy="171.0" r="0.78"/><circle cx="219.0" cy="171.7" r="0.78"/><circle cx="215.9" cy="168.7" r="0.78"/><circle cx="221.5" cy="172.6" r="0.78"/><circle cx="219.8" cy="171.2" r="0.78"/><circle cx="228.2" cy="170.7" r="0.78"/><circle cx="218.7" cy="174.8" r="0.78"/><circle cx="222.6" cy="170.7" r="0.78"/><circle cx="220.4" cy="170.2" r="0.78"/><circle cx="218.0" cy="172.2" r="0.78"/><circle cx="227.2" cy="172.7" r="0.78"/><circle cx="227.3" cy="170.2" r="0.78"/><circle cx="228.5" cy="171.7" r="0.78"/><circle cx="217.8" cy="170.6" r="0.78"/><circle cx="216.4" cy="172.0" r="0.78"/><circle cx="218.4" cy="171.2" r="0.78"/><circle cx="218.6" cy="172.4" r="0.78"/><circle cx="225.2" cy="167.8" r="0.78"/><circle cx="220.7" cy="169.9" r="0.78"/><circle cx="220.2" cy="169.5" r="0.78"/><circle cx="219.7" cy="172.9" r="0.78"/><circle cx="228.1" cy="173.2" r="0.78"/><circle cx="216.9" cy="172.3" r="0.78"/><circle cx="226.7" cy="168.8" r="0.78"/><circle cx="218.1" cy="171.6" r="0.78"/><circle cx="220.5" cy="171.4" r="0.78"/><circle cx="221.1" cy="173.2" r="0.78"/><circle cx="226.8" cy="175.4" r="0.78"/><circle cx="215.5" cy="170.5" r="0.78"/><circle cx="227.1" cy="174.8" r="0.78"/><circle cx="221.5" cy="172.3" r="0.78"/><circle cx="220.4" cy="171.6" r="0.78"/><circle cx="227.5" cy="171.6" r="0.78"/><circle cx="228.1" cy="173.5" r="0.78"/><circle cx="218.5" cy="168.1" r="0.78"/><circle cx="222.1" cy="172.6" r="0.78"/><circle cx="224.3" cy="172.4" r="0.78"/><circle cx="223.8" cy="174.7" r="0.78"/><circle cx="225.4" cy="170.5" r="0.78"/><circle cx="215.7" cy="169.2" r="0.78"/><circle cx="225.6" cy="172.3" r="0.78"/><circle cx="223.8" cy="172.1" r="0.78"/><circle cx="219.2" cy="176.2" r="0.78"/><circle cx="223.7" cy="172.7" r="0.78"/><circle cx="224.5" cy="172.8" r="0.78"/><circle cx="222.2" cy="172.2" r="0.78"/><circle cx="223.0" cy="172.2" r="0.78"/><circle cx="223.2" cy="170.6" r="0.78"/><circle cx="215.3" cy="172.6" r="0.78"/><circle cx="228.0" cy="170.9" r="0.78"/><circle cx="223.8" cy="173.8" r="0.78"/><circle cx="218.3" cy="173.4" r="0.78"/><circle cx="218.5" cy="170.1" r="0.78"/><circle cx="101.2" cy="377.2" r="0.78"/><circle cx="92.5" cy="381.2" r="0.78"/><circle cx="100.8" cy="380.0" r="0.78"/><circle cx="95.5" cy="380.5" r="0.78"/><circle cx="104.0" cy="379.0" r="0.78"/><circle cx="92.6" cy="381.6" r="0.78"/><circle cx="97.6" cy="381.0" r="0.78"/><circle cx="94.7" cy="378.9" r="0.78"/><circle cx="101.7" cy="378.2" r="0.78"/><circle cx="94.8" cy="380.0" r="0.78"/><circle cx="96.2" cy="377.2" r="0.78"/><circle cx="95.2" cy="378.1" r="0.78"/><circle cx="101.9" cy="381.7" r="0.78"/><circle cx="104.4" cy="381.2" r="0.78"/><circle cx="94.6" cy="380.0" r="0.78"/><circle cx="97.5" cy="381.7" r="0.78"/><circle cx="104.3" cy="379.0" r="0.78"/><circle cx="97.2" cy="382.1" r="0.78"/><circle cx="104.7" cy="381.7" r="0.78"/><circle cx="92.9" cy="382.1" r="0.78"/><circle cx="97.2" cy="382.6" r="0.78"/><circle cx="103.5" cy="377.6" r="0.78"/><circle cx="105.0" cy="378.6" r="0.78"/><circle cx="96.4" cy="377.4" r="0.78"/><circle cx="104.2" cy="381.9" r="0.78"/><circle cx="92.6" cy="386.3" r="0.78"/><circle cx="97.0" cy="387.7" r="0.78"/><circle cx="96.4" cy="392.3" r="0.78"/><circle cx="92.2" cy="395.2" r="0.78"/><circle cx="96.7" cy="393.7" r="0.78"/><circle cx="93.8" cy="382.8" r="0.78"/><circle cx="94.9" cy="382.6" r="0.78"/><circle cx="102.7" cy="392.6" r="0.78"/><circle cx="97.7" cy="385.1" r="0.78"/><circle cx="98.3" cy="396.7" r="0.78"/><circle cx="104.0" cy="392.3" r="0.78"/><circle cx="96.9" cy="394.9" r="0.78"/><circle cx="92.6" cy="383.8" r="0.78"/><circle cx="102.6" cy="391.7" r="0.78"/><circle cx="92.7" cy="386.0" r="0.78"/><circle cx="93.0" cy="396.9" r="0.78"/><circle cx="95.5" cy="383.4" r="0.78"/><circle cx="103.7" cy="386.3" r="0.78"/><circle cx="95.7" cy="392.8" r="0.78"/><circle cx="100.1" cy="382.7" r="0.78"/><circle cx="101.4" cy="393.9" r="0.78"/><circle cx="95.7" cy="393.2" r="0.78"/><circle cx="101.9" cy="397.2" r="0.78"/><circle cx="100.3" cy="383.5" r="0.78"/><circle cx="92.5" cy="383.0" r="0.78"/><circle cx="98.3" cy="394.3" r="0.78"/><circle cx="104.4" cy="382.8" r="0.78"/><circle cx="95.4" cy="392.1" r="0.78"/><circle cx="98.5" cy="391.4" r="0.78"/><circle cx="94.5" cy="383.2" r="0.78"/><circle cx="101.7" cy="385.4" r="0.78"/><circle cx="102.1" cy="385.1" r="0.78"/><circle cx="96.4" cy="388.6" r="0.78"/><circle cx="96.8" cy="393.1" r="0.78"/><circle cx="93.2" cy="385.7" r="0.78"/><circle cx="101.8" cy="394.8" r="0.78"/><circle cx="93.0" cy="394.2" r="0.78"/><circle cx="99.3" cy="396.9" r="0.78"/><circle cx="104.7" cy="393.0" r="0.78"/><circle cx="104.8" cy="384.0" r="0.78"/><circle cx="93.3" cy="393.9" r="0.78"/><circle cx="98.6" cy="396.2" r="0.78"/><circle cx="97.9" cy="387.0" r="0.78"/><circle cx="97.5" cy="394.3" r="0.78"/><circle cx="100.8" cy="388.4" r="0.78"/><circle cx="103.0" cy="386.3" r="0.78"/><circle cx="93.8" cy="387.7" r="0.78"/><circle cx="96.0" cy="384.7" r="0.78"/><circle cx="97.0" cy="389.3" r="0.78"/><circle cx="94.7" cy="386.5" r="0.78"/><circle cx="95.3" cy="394.1" r="0.78"/><circle cx="103.5" cy="395.4" r="0.78"/><circle cx="96.4" cy="389.1" r="0.78"/><circle cx="104.9" cy="392.0" r="0.78"/><circle cx="95.2" cy="390.2" r="0.78"/><circle cx="100.6" cy="385.3" r="0.78"/><circle cx="93.5" cy="382.2" r="0.78"/><circle cx="102.7" cy="390.7" r="0.78"/><circle cx="103.9" cy="384.8" r="0.78"/><circle cx="96.0" cy="396.8" r="0.78"/><circle cx="94.6" cy="395.9" r="0.78"/><circle cx="99.7" cy="382.5" r="0.78"/><circle cx="97.0" cy="383.2" r="0.78"/><circle cx="97.9" cy="384.3" r="0.78"/><circle cx="102.2" cy="394.0" r="0.78"/><circle cx="93.6" cy="382.9" r="0.78"/><circle cx="100.1" cy="388.8" r="0.78"/><circle cx="96.9" cy="394.6" r="0.78"/><circle cx="94.8" cy="395.6" r="0.78"/><circle cx="99.9" cy="394.0" r="0.78"/><circle cx="94.8" cy="387.9" r="0.78"/><circle cx="96.4" cy="397.1" r="0.78"/><circle cx="94.6" cy="387.5" r="0.78"/><circle cx="94.8" cy="393.2" r="0.78"/><circle cx="99.2" cy="385.5" r="0.78"/><circle cx="93.5" cy="396.6" r="0.78"/><circle cx="99.2" cy="392.0" r="0.78"/><circle cx="93.4" cy="388.1" r="0.78"/><circle cx="101.1" cy="395.3" r="0.78"/><circle cx="95.8" cy="391.8" r="0.78"/><circle cx="104.4" cy="393.3" r="0.78"/><circle cx="99.5" cy="393.2" r="0.78"/><circle cx="97.5" cy="392.5" r="0.78"/><circle cx="105.0" cy="384.3" r="0.78"/><circle cx="94.7" cy="392.4" r="0.78"/><circle cx="94.8" cy="386.6" r="0.78"/><circle cx="103.7" cy="397.2" r="0.78"/><circle cx="102.7" cy="391.5" r="0.78"/><circle cx="103.5" cy="391.8" r="0.78"/><circle cx="94.3" cy="391.0" r="0.78"/><circle cx="99.3" cy="397.1" r="0.78"/><circle cx="103.8" cy="388.1" r="0.78"/><circle cx="100.2" cy="396.3" r="0.78"/><circle cx="98.7" cy="392.3" r="0.78"/><circle cx="95.8" cy="395.5" r="0.78"/><circle cx="104.0" cy="390.0" r="0.78"/><circle cx="98.5" cy="396.0" r="0.78"/><circle cx="104.6" cy="385.4" r="0.78"/><circle cx="93.8" cy="394.8" r="0.78"/><circle cx="104.7" cy="383.0" r="0.78"/><circle cx="92.9" cy="390.6" r="0.78"/><circle cx="97.2" cy="383.3" r="0.78"/><circle cx="100.1" cy="383.7" r="0.78"/><circle cx="94.3" cy="385.0" r="0.78"/><circle cx="95.0" cy="385.7" r="0.78"/><circle cx="103.0" cy="391.8" r="0.78"/><circle cx="94.5" cy="384.9" r="0.78"/><circle cx="97.3" cy="394.6" r="0.78"/><circle cx="97.1" cy="390.1" r="0.78"/><circle cx="95.4" cy="395.8" r="0.78"/><circle cx="103.7" cy="386.7" r="0.78"/><circle cx="99.4" cy="396.8" r="0.78"/><circle cx="92.7" cy="386.2" r="0.78"/><circle cx="93.7" cy="384.8" r="0.78"/><circle cx="99.2" cy="388.8" r="0.78"/><circle cx="96.1" cy="388.3" r="0.78"/><circle cx="99.7" cy="391.6" r="0.78"/><circle cx="100.6" cy="391.5" r="0.78"/><circle cx="97.8" cy="391.2" r="0.78"/><circle cx="100.1" cy="397.0" r="0.78"/><circle cx="95.2" cy="390.5" r="0.78"/><circle cx="102.2" cy="386.1" r="0.78"/><circle cx="94.5" cy="391.0" r="0.78"/><circle cx="93.6" cy="390.8" r="0.78"/><circle cx="97.7" cy="395.8" r="0.78"/><circle cx="97.9" cy="396.2" r="0.78"/><circle cx="92.7" cy="390.2" r="0.78"/><circle cx="93.3" cy="388.2" r="0.78"/><circle cx="102.2" cy="386.6" r="0.78"/><circle cx="92.9" cy="390.2" r="0.78"/><circle cx="97.0" cy="390.3" r="0.78"/><circle cx="93.9" cy="382.9" r="0.78"/><circle cx="105.0" cy="384.5" r="0.78"/><circle cx="102.6" cy="386.6" r="0.78"/><circle cx="104.8" cy="394.9" r="0.78"/><circle cx="104.4" cy="390.5" r="0.78"/><circle cx="94.3" cy="383.5" r="0.78"/><circle cx="104.1" cy="385.6" r="0.78"/><circle cx="96.7" cy="396.5" r="0.78"/><circle cx="94.2" cy="386.2" r="0.78"/><circle cx="95.7" cy="383.8" r="0.78"/><circle cx="94.0" cy="385.2" r="0.78"/><circle cx="104.0" cy="390.3" r="0.78"/><circle cx="95.6" cy="394.7" r="0.78"/><circle cx="96.3" cy="390.3" r="0.78"/><circle cx="94.5" cy="396.9" r="0.78"/><circle cx="104.2" cy="395.3" r="0.78"/><circle cx="103.7" cy="387.5" r="0.78"/><circle cx="102.2" cy="395.2" r="0.78"/><circle cx="99.0" cy="395.9" r="0.78"/><circle cx="96.8" cy="388.2" r="0.78"/><circle cx="99.3" cy="384.2" r="0.78"/><circle cx="103.5" cy="389.1" r="0.78"/><circle cx="104.9" cy="396.1" r="0.78"/><circle cx="97.2" cy="388.3" r="0.78"/><circle cx="95.6" cy="385.5" r="0.78"/><circle cx="99.6" cy="382.2" r="0.78"/><circle cx="102.0" cy="392.5" r="0.78"/><circle cx="94.5" cy="391.3" r="0.78"/><circle cx="92.8" cy="386.4" r="0.78"/><circle cx="95.4" cy="385.1" r="0.78"/><circle cx="104.8" cy="388.1" r="0.78"/><circle cx="100.7" cy="389.0" r="0.78"/><circle cx="92.2" cy="393.2" r="0.78"/><circle cx="94.1" cy="396.9" r="0.78"/><circle cx="97.7" cy="388.5" r="0.78"/><circle cx="103.7" cy="390.2" r="0.78"/><circle cx="95.1" cy="395.7" r="0.78"/><circle cx="92.5" cy="387.9" r="0.78"/><circle cx="96.7" cy="397.2" r="0.78"/><circle cx="96.8" cy="396.0" r="0.78"/><circle cx="99.7" cy="394.5" r="0.78"/><circle cx="94.8" cy="388.9" r="0.78"/><circle cx="98.3" cy="388.4" r="0.78"/><circle cx="104.2" cy="395.7" r="0.78"/><circle cx="135.0" cy="371.8" r="0.78"/><circle cx="141.5" cy="372.5" r="0.78"/><circle cx="143.4" cy="368.6" r="0.78"/><circle cx="136.5" cy="371.0" r="0.78"/><circle cx="141.6" cy="372.9" r="0.78"/><circle cx="137.7" cy="370.2" r="0.78"/><circle cx="138.9" cy="369.8" r="0.78"/><circle cx="142.8" cy="368.3" r="0.78"/><circle cx="145.0" cy="371.8" r="0.78"/><circle cx="140.1" cy="372.8" r="0.78"/><circle cx="136.2" cy="371.0" r="0.78"/><circle cx="143.4" cy="372.7" r="0.78"/><circle cx="140.3" cy="372.9" r="0.78"/><circle cx="134.9" cy="368.3" r="0.78"/><circle cx="141.1" cy="372.0" r="0.78"/><circle cx="141.5" cy="370.5" r="0.78"/><circle cx="135.3" cy="368.9" r="0.78"/><circle cx="137.0" cy="371.5" r="0.78"/><circle cx="144.8" cy="372.8" r="0.78"/><circle cx="142.5" cy="369.1" r="0.78"/><circle cx="144.2" cy="373.0" r="0.78"/><circle cx="139.2" cy="369.3" r="0.78"/><circle cx="139.0" cy="369.3" r="0.78"/><circle cx="134.4" cy="371.9" r="0.78"/><circle cx="133.5" cy="371.8" r="0.78"/><circle cx="143.0" cy="390.9" r="0.78"/><circle cx="144.2" cy="381.5" r="0.78"/><circle cx="136.5" cy="381.1" r="0.78"/><circle cx="138.8" cy="385.4" r="0.78"/><circle cx="140.0" cy="378.8" r="0.78"/><circle cx="141.5" cy="392.5" r="0.78"/><circle cx="135.9" cy="373.6" r="0.78"/><circle cx="133.2" cy="376.1" r="0.78"/><circle cx="136.1" cy="392.6" r="0.78"/><circle cx="145.6" cy="380.1" r="0.78"/><circle cx="137.3" cy="380.1" r="0.78"/><circle cx="137.4" cy="376.1" r="0.78"/><circle cx="145.1" cy="393.1" r="0.78"/><circle cx="142.2" cy="383.3" r="0.78"/><circle cx="146.0" cy="382.4" r="0.78"/><circle cx="144.2" cy="387.6" r="0.78"/><circle cx="144.4" cy="381.5" r="0.78"/><circle cx="142.6" cy="388.4" r="0.78"/><circle cx="137.1" cy="385.0" r="0.78"/><circle cx="141.3" cy="393.6" r="0.78"/><circle cx="145.1" cy="396.2" r="0.78"/><circle cx="133.4" cy="395.0" r="0.78"/><circle cx="145.4" cy="395.7" r="0.78"/><circle cx="134.9" cy="390.7" r="0.78"/><circle cx="133.6" cy="396.9" r="0.78"/><circle cx="141.4" cy="381.6" r="0.78"/><circle cx="142.8" cy="381.5" r="0.78"/><circle cx="140.9" cy="396.4" r="0.78"/><circle cx="143.9" cy="390.2" r="0.78"/><circle cx="144.9" cy="377.9" r="0.78"/><circle cx="144.5" cy="396.4" r="0.78"/><circle cx="145.6" cy="375.1" r="0.78"/><circle cx="135.7" cy="395.7" r="0.78"/><circle cx="133.5" cy="395.6" r="0.78"/><circle cx="143.8" cy="377.1" r="0.78"/><circle cx="144.0" cy="383.2" r="0.78"/><circle cx="136.8" cy="383.3" r="0.78"/><circle cx="134.3" cy="395.8" r="0.78"/><circle cx="135.7" cy="379.7" r="0.78"/><circle cx="138.6" cy="391.3" r="0.78"/><circle cx="136.4" cy="397.0" r="0.78"/><circle cx="142.5" cy="392.1" r="0.78"/><circle cx="137.3" cy="390.1" r="0.78"/><circle cx="139.7" cy="373.6" r="0.78"/><circle cx="141.2" cy="377.0" r="0.78"/><circle cx="138.5" cy="396.9" r="0.78"/><circle cx="143.3" cy="388.4" r="0.78"/><circle cx="142.4" cy="390.6" r="0.78"/><circle cx="135.9" cy="385.8" r="0.78"/><circle cx="134.2" cy="376.7" r="0.78"/><circle cx="135.3" cy="377.9" r="0.78"/><circle cx="135.7" cy="397.2" r="0.78"/><circle cx="146.0" cy="379.6" r="0.78"/><circle cx="139.5" cy="397.2" r="0.78"/><circle cx="143.6" cy="387.0" r="0.78"/><circle cx="139.6" cy="394.2" r="0.78"/><circle cx="144.1" cy="390.6" r="0.78"/><circle cx="145.6" cy="392.6" r="0.78"/><circle cx="135.9" cy="392.1" r="0.78"/><circle cx="139.6" cy="381.4" r="0.78"/><circle cx="141.5" cy="395.6" r="0.78"/><circle cx="143.5" cy="396.1" r="0.78"/><circle cx="143.5" cy="381.5" r="0.78"/><circle cx="137.7" cy="383.4" r="0.78"/><circle cx="138.2" cy="389.3" r="0.78"/><circle cx="134.1" cy="375.8" r="0.78"/><circle cx="133.3" cy="375.9" r="0.78"/><circle cx="136.5" cy="393.8" r="0.78"/><circle cx="139.7" cy="375.5" r="0.78"/><circle cx="144.8" cy="389.8" r="0.78"/><circle cx="139.1" cy="393.2" r="0.78"/><circle cx="143.0" cy="386.0" r="0.78"/><circle cx="141.6" cy="379.9" r="0.78"/><circle cx="137.3" cy="390.6" r="0.78"/><circle cx="144.2" cy="394.8" r="0.78"/><circle cx="142.9" cy="382.4" r="0.78"/><circle cx="138.8" cy="394.5" r="0.78"/><circle cx="140.7" cy="379.3" r="0.78"/><circle cx="139.1" cy="395.3" r="0.78"/><circle cx="136.2" cy="376.0" r="0.78"/><circle cx="137.0" cy="394.1" r="0.78"/><circle cx="144.2" cy="381.3" r="0.78"/><circle cx="135.1" cy="394.8" r="0.78"/><circle cx="137.3" cy="392.9" r="0.78"/><circle cx="135.1" cy="386.2" r="0.78"/><circle cx="135.5" cy="391.1" r="0.78"/><circle cx="142.7" cy="373.3" r="0.78"/><circle cx="145.8" cy="395.8" r="0.78"/><circle cx="138.1" cy="395.8" r="0.78"/><circle cx="143.6" cy="373.0" r="0.78"/><circle cx="138.8" cy="380.4" r="0.78"/><circle cx="141.5" cy="394.0" r="0.78"/><circle cx="135.7" cy="395.7" r="0.78"/><circle cx="133.5" cy="389.6" r="0.78"/><circle cx="143.5" cy="389.4" r="0.78"/><circle cx="139.7" cy="381.6" r="0.78"/><circle cx="139.2" cy="383.3" r="0.78"/><circle cx="141.0" cy="395.1" r="0.78"/><circle cx="142.9" cy="389.2" r="0.78"/><circle cx="138.7" cy="375.3" r="0.78"/><circle cx="143.0" cy="384.9" r="0.78"/><circle cx="136.0" cy="388.8" r="0.78"/><circle cx="144.7" cy="380.8" r="0.78"/><circle cx="142.3" cy="379.3" r="0.78"/><circle cx="142.0" cy="377.0" r="0.78"/><circle cx="139.0" cy="383.0" r="0.78"/><circle cx="141.4" cy="391.4" r="0.78"/><circle cx="138.6" cy="395.8" r="0.78"/><circle cx="142.5" cy="379.0" r="0.78"/><circle cx="136.3" cy="383.3" r="0.78"/><circle cx="139.1" cy="388.8" r="0.78"/><circle cx="138.4" cy="383.6" r="0.78"/><circle cx="145.4" cy="382.1" r="0.78"/><circle cx="141.7" cy="394.2" r="0.78"/><circle cx="138.2" cy="379.1" r="0.78"/><circle cx="146.0" cy="387.1" r="0.78"/><circle cx="140.2" cy="396.8" r="0.78"/><circle cx="143.4" cy="394.7" r="0.78"/><circle cx="139.9" cy="374.3" r="0.78"/><circle cx="140.6" cy="395.8" r="0.78"/><circle cx="142.5" cy="385.7" r="0.78"/><circle cx="141.5" cy="386.5" r="0.78"/><circle cx="139.9" cy="377.7" r="0.78"/><circle cx="145.6" cy="389.1" r="0.78"/><circle cx="142.1" cy="393.7" r="0.78"/><circle cx="143.1" cy="389.5" r="0.78"/><circle cx="146.1" cy="395.4" r="0.78"/><circle cx="133.8" cy="390.4" r="0.78"/><circle cx="138.3" cy="392.3" r="0.78"/><circle cx="138.6" cy="397.1" r="0.78"/><circle cx="142.3" cy="388.8" r="0.78"/><circle cx="136.5" cy="390.5" r="0.78"/><circle cx="142.9" cy="393.4" r="0.78"/><circle cx="140.0" cy="374.3" r="0.78"/><circle cx="143.7" cy="393.5" r="0.78"/><circle cx="135.8" cy="389.5" r="0.78"/><circle cx="143.3" cy="395.3" r="0.78"/><circle cx="141.4" cy="378.2" r="0.78"/><circle cx="140.5" cy="387.6" r="0.78"/><circle cx="145.8" cy="393.4" r="0.78"/><circle cx="141.5" cy="390.5" r="0.78"/><circle cx="143.9" cy="378.0" r="0.78"/><circle cx="136.9" cy="387.6" r="0.78"/><circle cx="134.7" cy="385.5" r="0.78"/><circle cx="137.7" cy="377.5" r="0.78"/><circle cx="136.6" cy="377.0" r="0.78"/><circle cx="136.4" cy="389.9" r="0.78"/><circle cx="135.5" cy="388.7" r="0.78"/><circle cx="142.6" cy="397.2" r="0.78"/><circle cx="136.3" cy="392.1" r="0.78"/><circle cx="139.4" cy="391.7" r="0.78"/><circle cx="141.5" cy="388.6" r="0.78"/><circle cx="137.8" cy="382.5" r="0.78"/><circle cx="144.4" cy="374.7" r="0.78"/><circle cx="144.0" cy="396.5" r="0.78"/><circle cx="143.4" cy="375.4" r="0.78"/><circle cx="144.1" cy="395.1" r="0.78"/><circle cx="133.2" cy="383.2" r="0.78"/><circle cx="145.7" cy="397.1" r="0.78"/><circle cx="136.3" cy="382.6" r="0.78"/><circle cx="134.9" cy="395.8" r="0.78"/><circle cx="143.3" cy="393.2" r="0.78"/><circle cx="135.0" cy="390.6" r="0.78"/><circle cx="143.5" cy="375.4" r="0.78"/><circle cx="144.9" cy="394.5" r="0.78"/><circle cx="143.4" cy="383.9" r="0.78"/><circle cx="144.9" cy="382.3" r="0.78"/><circle cx="144.2" cy="378.9" r="0.78"/><circle cx="142.2" cy="394.0" r="0.78"/><circle cx="142.9" cy="386.0" r="0.78"/><circle cx="144.7" cy="388.4" r="0.78"/><circle cx="136.5" cy="385.4" r="0.78"/><circle cx="134.9" cy="393.2" r="0.78"/><circle cx="133.8" cy="387.0" r="0.78"/><circle cx="134.9" cy="387.7" r="0.78"/><circle cx="139.6" cy="387.0" r="0.78"/><circle cx="144.5" cy="385.8" r="0.78"/><circle cx="144.2" cy="397.2" r="0.78"/><circle cx="140.5" cy="387.6" r="0.78"/><circle cx="144.2" cy="382.4" r="0.78"/><circle cx="138.6" cy="390.0" r="0.78"/><circle cx="134.0" cy="373.7" r="0.78"/><circle cx="141.5" cy="383.1" r="0.78"/><circle cx="141.1" cy="396.9" r="0.78"/><circle cx="145.4" cy="381.9" r="0.78"/><circle cx="146.1" cy="391.0" r="0.78"/><circle cx="139.4" cy="386.5" r="0.78"/><circle cx="133.5" cy="375.6" r="0.78"/><circle cx="141.3" cy="380.9" r="0.78"/><circle cx="144.5" cy="390.8" r="0.78"/><circle cx="139.3" cy="390.2" r="0.78"/><circle cx="143.2" cy="386.1" r="0.78"/><circle cx="138.8" cy="393.7" r="0.78"/><circle cx="140.4" cy="388.8" r="0.78"/><circle cx="136.9" cy="377.7" r="0.78"/><circle cx="138.4" cy="377.7" r="0.78"/><circle cx="136.6" cy="386.7" r="0.78"/><circle cx="146.0" cy="386.6" r="0.78"/><circle cx="143.5" cy="382.7" r="0.78"/><circle cx="137.2" cy="391.0" r="0.78"/><circle cx="140.8" cy="391.7" r="0.78"/><circle cx="143.4" cy="383.2" r="0.78"/><circle cx="142.6" cy="396.8" r="0.78"/><circle cx="140.3" cy="376.0" r="0.78"/><circle cx="137.0" cy="396.6" r="0.78"/><circle cx="135.5" cy="397.2" r="0.78"/><circle cx="141.1" cy="374.9" r="0.78"/><circle cx="143.5" cy="382.6" r="0.78"/><circle cx="141.1" cy="375.3" r="0.78"/><circle cx="141.3" cy="383.7" r="0.78"/><circle cx="140.9" cy="381.5" r="0.78"/><circle cx="135.8" cy="381.9" r="0.78"/><circle cx="139.1" cy="382.3" r="0.78"/><circle cx="134.3" cy="379.6" r="0.78"/><circle cx="133.5" cy="394.3" r="0.78"/><circle cx="186.4" cy="377.7" r="0.78"/><circle cx="179.2" cy="378.6" r="0.78"/><circle cx="184.7" cy="377.3" r="0.78"/><circle cx="177.8" cy="379.3" r="0.78"/><circle cx="179.9" cy="381.2" r="0.78"/><circle cx="180.0" cy="381.1" r="0.78"/><circle cx="186.6" cy="378.7" r="0.78"/><circle cx="181.8" cy="383.1" r="0.78"/><circle cx="176.0" cy="383.2" r="0.78"/><circle cx="181.9" cy="377.4" r="0.78"/><circle cx="180.2" cy="376.6" r="0.78"/><circle cx="179.5" cy="383.4" r="0.78"/><circle cx="186.7" cy="379.1" r="0.78"/><circle cx="180.6" cy="376.1" r="0.78"/><circle cx="175.7" cy="380.4" r="0.78"/><circle cx="177.2" cy="378.7" r="0.78"/><circle cx="174.6" cy="382.4" r="0.78"/><circle cx="183.4" cy="383.5" r="0.78"/><circle cx="187.1" cy="382.6" r="0.78"/><circle cx="185.8" cy="382.8" r="0.78"/><circle cx="174.6" cy="382.5" r="0.78"/><circle cx="177.6" cy="378.1" r="0.78"/><circle cx="176.9" cy="378.0" r="0.78"/><circle cx="184.5" cy="383.1" r="0.78"/><circle cx="185.6" cy="378.1" r="0.78"/><circle cx="175.5" cy="387.0" r="0.78"/><circle cx="183.7" cy="388.6" r="0.78"/><circle cx="186.6" cy="391.2" r="0.78"/><circle cx="187.0" cy="394.2" r="0.78"/><circle cx="174.5" cy="387.2" r="0.78"/><circle cx="182.9" cy="397.1" r="0.78"/><circle cx="175.4" cy="385.5" r="0.78"/><circle cx="184.0" cy="393.4" r="0.78"/><circle cx="185.7" cy="395.3" r="0.78"/><circle cx="175.2" cy="390.8" r="0.78"/><circle cx="181.9" cy="392.6" r="0.78"/><circle cx="183.3" cy="391.5" r="0.78"/><circle cx="184.8" cy="395.6" r="0.78"/><circle cx="182.8" cy="392.6" r="0.78"/><circle cx="179.9" cy="388.6" r="0.78"/><circle cx="184.7" cy="392.3" r="0.78"/><circle cx="184.7" cy="383.4" r="0.78"/><circle cx="178.2" cy="389.5" r="0.78"/><circle cx="187.2" cy="396.6" r="0.78"/><circle cx="185.2" cy="387.4" r="0.78"/><circle cx="182.3" cy="393.1" r="0.78"/><circle cx="185.3" cy="382.9" r="0.78"/><circle cx="178.4" cy="389.0" r="0.78"/><circle cx="186.0" cy="391.7" r="0.78"/><circle cx="183.4" cy="392.4" r="0.78"/><circle cx="186.1" cy="389.0" r="0.78"/><circle cx="178.1" cy="385.7" r="0.78"/><circle cx="177.8" cy="397.2" r="0.78"/><circle cx="182.1" cy="391.7" r="0.78"/><circle cx="186.0" cy="385.6" r="0.78"/><circle cx="185.3" cy="396.8" r="0.78"/><circle cx="185.8" cy="385.6" r="0.78"/><circle cx="178.0" cy="389.5" r="0.78"/><circle cx="185.0" cy="385.0" r="0.78"/><circle cx="186.4" cy="387.7" r="0.78"/><circle cx="175.5" cy="392.9" r="0.78"/><circle cx="184.8" cy="389.8" r="0.78"/><circle cx="184.2" cy="394.9" r="0.78"/><circle cx="177.5" cy="383.6" r="0.78"/><circle cx="183.3" cy="388.9" r="0.78"/><circle cx="177.1" cy="391.1" r="0.78"/><circle cx="184.2" cy="394.1" r="0.78"/><circle cx="180.4" cy="386.0" r="0.78"/><circle cx="185.0" cy="396.3" r="0.78"/><circle cx="177.5" cy="386.3" r="0.78"/><circle cx="186.1" cy="389.3" r="0.78"/><circle cx="181.2" cy="384.4" r="0.78"/><circle cx="182.1" cy="390.9" r="0.78"/><circle cx="176.9" cy="395.0" r="0.78"/><circle cx="183.6" cy="395.1" r="0.78"/><circle cx="181.8" cy="392.6" r="0.78"/><circle cx="181.2" cy="392.0" r="0.78"/><circle cx="175.0" cy="395.6" r="0.78"/><circle cx="179.3" cy="382.5" r="0.78"/><circle cx="182.7" cy="396.1" r="0.78"/><circle cx="176.4" cy="386.0" r="0.78"/><circle cx="178.9" cy="389.1" r="0.78"/><circle cx="174.7" cy="390.3" r="0.78"/><circle cx="187.4" cy="396.9" r="0.78"/><circle cx="180.8" cy="384.7" r="0.78"/><circle cx="177.8" cy="389.5" r="0.78"/><circle cx="180.0" cy="386.2" r="0.78"/><circle cx="184.5" cy="383.4" r="0.78"/><circle cx="187.0" cy="385.5" r="0.78"/><circle cx="174.9" cy="394.2" r="0.78"/><circle cx="176.8" cy="394.9" r="0.78"/><circle cx="175.1" cy="396.4" r="0.78"/><circle cx="185.8" cy="389.7" r="0.78"/><circle cx="186.8" cy="391.2" r="0.78"/><circle cx="175.2" cy="384.0" r="0.78"/><circle cx="179.6" cy="389.1" r="0.78"/><circle cx="187.0" cy="395.9" r="0.78"/><circle cx="181.8" cy="394.1" r="0.78"/><circle cx="186.9" cy="388.4" r="0.78"/><circle cx="179.5" cy="387.9" r="0.78"/><circle cx="176.5" cy="391.4" r="0.78"/><circle cx="187.4" cy="383.1" r="0.78"/><circle cx="174.9" cy="394.6" r="0.78"/><circle cx="179.0" cy="394.1" r="0.78"/><circle cx="186.2" cy="384.1" r="0.78"/><circle cx="175.0" cy="385.2" r="0.78"/><circle cx="183.7" cy="386.0" r="0.78"/><circle cx="187.3" cy="388.3" r="0.78"/><circle cx="176.3" cy="396.7" r="0.78"/><circle cx="186.7" cy="386.6" r="0.78"/><circle cx="178.3" cy="387.8" r="0.78"/><circle cx="184.3" cy="389.2" r="0.78"/><circle cx="178.6" cy="396.1" r="0.78"/><circle cx="176.0" cy="394.1" r="0.78"/><circle cx="176.6" cy="390.9" r="0.78"/><circle cx="176.3" cy="394.4" r="0.78"/><circle cx="174.6" cy="387.8" r="0.78"/><circle cx="177.0" cy="387.2" r="0.78"/><circle cx="186.6" cy="396.9" r="0.78"/><circle cx="186.6" cy="394.6" r="0.78"/><circle cx="186.0" cy="384.7" r="0.78"/><circle cx="180.3" cy="395.7" r="0.78"/><circle cx="186.6" cy="396.2" r="0.78"/><circle cx="182.6" cy="385.1" r="0.78"/><circle cx="178.9" cy="391.3" r="0.78"/><circle cx="180.7" cy="385.4" r="0.78"/><circle cx="176.3" cy="388.6" r="0.78"/><circle cx="175.1" cy="394.6" r="0.78"/><circle cx="181.6" cy="387.2" r="0.78"/><circle cx="185.8" cy="395.6" r="0.78"/><circle cx="179.8" cy="394.0" r="0.78"/><circle cx="178.0" cy="395.5" r="0.78"/><circle cx="178.8" cy="385.2" r="0.78"/><circle cx="180.8" cy="395.3" r="0.78"/><circle cx="186.2" cy="393.3" r="0.78"/><circle cx="187.2" cy="396.0" r="0.78"/><circle cx="186.1" cy="396.7" r="0.78"/><circle cx="177.2" cy="388.0" r="0.78"/><circle cx="178.1" cy="390.9" r="0.78"/><circle cx="177.0" cy="394.1" r="0.78"/><circle cx="187.4" cy="392.6" r="0.78"/><circle cx="186.5" cy="382.5" r="0.78"/><circle cx="178.2" cy="396.2" r="0.78"/><circle cx="175.2" cy="384.2" r="0.78"/><circle cx="178.2" cy="387.0" r="0.78"/><circle cx="174.6" cy="382.9" r="0.78"/><circle cx="178.9" cy="385.7" r="0.78"/><circle cx="174.4" cy="395.7" r="0.78"/><circle cx="181.3" cy="385.3" r="0.78"/><circle cx="180.1" cy="395.1" r="0.78"/><circle cx="177.3" cy="384.0" r="0.78"/><circle cx="176.2" cy="389.5" r="0.78"/><circle cx="184.5" cy="395.2" r="0.78"/><circle cx="177.0" cy="387.3" r="0.78"/><circle cx="175.5" cy="396.4" r="0.78"/><circle cx="180.9" cy="388.9" r="0.78"/><circle cx="177.1" cy="393.9" r="0.78"/><circle cx="183.7" cy="388.8" r="0.78"/><circle cx="182.0" cy="385.6" r="0.78"/><circle cx="175.3" cy="394.9" r="0.78"/><circle cx="179.7" cy="386.9" r="0.78"/><circle cx="175.1" cy="387.1" r="0.78"/><circle cx="178.8" cy="385.7" r="0.78"/><circle cx="185.7" cy="385.1" r="0.78"/><circle cx="174.6" cy="390.7" r="0.78"/><circle cx="180.6" cy="384.0" r="0.78"/><circle cx="177.9" cy="384.6" r="0.78"/><circle cx="185.3" cy="395.1" r="0.78"/><circle cx="176.5" cy="392.6" r="0.78"/><circle cx="182.2" cy="392.5" r="0.78"/><circle cx="181.2" cy="397.2" r="0.78"/><circle cx="181.2" cy="391.4" r="0.78"/><circle cx="183.8" cy="395.9" r="0.78"/><circle cx="185.7" cy="385.6" r="0.78"/><circle cx="183.7" cy="393.2" r="0.78"/><circle cx="184.2" cy="392.3" r="0.78"/><circle cx="185.8" cy="396.6" r="0.78"/><circle cx="180.9" cy="383.3" r="0.78"/><circle cx="181.3" cy="390.4" r="0.78"/><circle cx="174.7" cy="390.0" r="0.78"/><circle cx="177.3" cy="383.0" r="0.78"/><circle cx="175.7" cy="395.1" r="0.78"/><circle cx="185.1" cy="394.2" r="0.78"/><circle cx="175.7" cy="396.9" r="0.78"/><circle cx="177.0" cy="387.5" r="0.78"/><circle cx="182.3" cy="397.1" r="0.78"/><circle cx="181.3" cy="389.4" r="0.78"/><circle cx="175.7" cy="387.4" r="0.78"/><circle cx="183.8" cy="384.7" r="0.78"/><circle cx="176.0" cy="396.8" r="0.78"/><circle cx="181.0" cy="390.7" r="0.78"/><circle cx="176.0" cy="393.8" r="0.78"/><circle cx="176.2" cy="392.0" r="0.78"/><circle cx="185.7" cy="389.2" r="0.78"/><circle cx="181.9" cy="395.6" r="0.78"/><circle cx="176.6" cy="386.7" r="0.78"/><circle cx="186.7" cy="385.4" r="0.78"/><circle cx="179.9" cy="392.2" r="0.78"/><circle cx="181.3" cy="385.2" r="0.78"/><circle cx="186.7" cy="392.1" r="0.78"/><circle cx="219.6" cy="378.5" r="0.78"/><circle cx="219.6" cy="381.9" r="0.78"/><circle cx="228.3" cy="380.7" r="0.78"/><circle cx="227.4" cy="378.3" r="0.78"/><circle cx="226.5" cy="378.2" r="0.78"/><circle cx="222.0" cy="383.2" r="0.78"/><circle cx="227.7" cy="377.3" r="0.78"/><circle cx="220.7" cy="381.9" r="0.78"/><circle cx="220.0" cy="379.4" r="0.78"/><circle cx="215.9" cy="380.0" r="0.78"/><circle cx="221.9" cy="380.7" r="0.78"/><circle cx="216.9" cy="383.4" r="0.78"/><circle cx="225.6" cy="377.2" r="0.78"/><circle cx="223.6" cy="377.4" r="0.78"/><circle cx="227.0" cy="378.2" r="0.78"/><circle cx="215.5" cy="377.7" r="0.78"/><circle cx="218.6" cy="379.3" r="0.78"/><circle cx="218.7" cy="379.1" r="0.78"/><circle cx="227.6" cy="380.0" r="0.78"/><circle cx="218.4" cy="379.5" r="0.78"/><circle cx="220.9" cy="380.1" r="0.78"/><circle cx="218.9" cy="377.3" r="0.78"/><circle cx="223.8" cy="381.5" r="0.78"/><circle cx="223.1" cy="382.7" r="0.78"/><circle cx="222.0" cy="377.3" r="0.78"/><circle cx="221.3" cy="394.0" r="0.78"/><circle cx="217.0" cy="390.1" r="0.78"/><circle cx="216.8" cy="395.9" r="0.78"/><circle cx="220.5" cy="393.6" r="0.78"/><circle cx="218.3" cy="393.7" r="0.78"/><circle cx="222.4" cy="396.3" r="0.78"/><circle cx="223.3" cy="385.2" r="0.78"/><circle cx="223.8" cy="389.5" r="0.78"/><circle cx="224.7" cy="394.9" r="0.78"/><circle cx="222.5" cy="391.2" r="0.78"/><circle cx="221.4" cy="388.8" r="0.78"/><circle cx="218.3" cy="393.4" r="0.78"/><circle cx="222.0" cy="394.6" r="0.78"/><circle cx="223.0" cy="392.3" r="0.78"/><circle cx="219.8" cy="397.1" r="0.78"/><circle cx="218.2" cy="384.8" r="0.78"/><circle cx="221.7" cy="389.7" r="0.78"/><circle cx="228.4" cy="393.7" r="0.78"/><circle cx="225.5" cy="393.6" r="0.78"/><circle cx="215.9" cy="395.4" r="0.78"/><circle cx="221.0" cy="384.7" r="0.78"/><circle cx="220.3" cy="396.6" r="0.78"/><circle cx="225.0" cy="391.5" r="0.78"/><circle cx="218.1" cy="396.0" r="0.78"/><circle cx="225.0" cy="383.2" r="0.78"/><circle cx="219.6" cy="395.5" r="0.78"/><circle cx="224.2" cy="392.8" r="0.78"/><circle cx="226.6" cy="388.8" r="0.78"/><circle cx="222.0" cy="385.5" r="0.78"/><circle cx="225.1" cy="386.8" r="0.78"/><circle cx="221.5" cy="386.5" r="0.78"/><circle cx="224.6" cy="386.1" r="0.78"/><circle cx="216.7" cy="383.9" r="0.78"/><circle cx="215.1" cy="384.7" r="0.78"/><circle cx="223.0" cy="386.4" r="0.78"/><circle cx="228.1" cy="390.6" r="0.78"/><circle cx="220.7" cy="389.5" r="0.78"/><circle cx="226.9" cy="386.1" r="0.78"/><circle cx="220.2" cy="388.9" r="0.78"/><circle cx="221.2" cy="391.3" r="0.78"/><circle cx="219.0" cy="387.1" r="0.78"/><circle cx="222.6" cy="392.2" r="0.78"/><circle cx="219.4" cy="392.3" r="0.78"/><circle cx="226.6" cy="386.0" r="0.78"/><circle cx="221.0" cy="390.6" r="0.78"/><circle cx="219.1" cy="395.1" r="0.78"/><circle cx="222.8" cy="395.6" r="0.78"/><circle cx="216.2" cy="389.3" r="0.78"/><circle cx="219.4" cy="383.8" r="0.78"/><circle cx="226.4" cy="385.1" r="0.78"/><circle cx="217.8" cy="383.2" r="0.78"/><circle cx="227.4" cy="391.7" r="0.78"/><circle cx="215.6" cy="397.1" r="0.78"/><circle cx="221.8" cy="389.6" r="0.78"/><circle cx="225.5" cy="383.8" r="0.78"/><circle cx="228.6" cy="390.0" r="0.78"/><circle cx="222.0" cy="390.3" r="0.78"/><circle cx="220.3" cy="387.7" r="0.78"/><circle cx="223.1" cy="392.7" r="0.78"/><circle cx="227.9" cy="392.8" r="0.78"/><circle cx="222.1" cy="387.8" r="0.78"/><circle cx="220.1" cy="396.2" r="0.78"/><circle cx="222.6" cy="392.1" r="0.78"/><circle cx="227.0" cy="389.4" r="0.78"/><circle cx="221.6" cy="383.1" r="0.78"/><circle cx="223.5" cy="391.5" r="0.78"/><circle cx="219.7" cy="382.6" r="0.78"/><circle cx="226.1" cy="390.1" r="0.78"/><circle cx="219.3" cy="395.3" r="0.78"/><circle cx="226.2" cy="382.9" r="0.78"/><circle cx="216.5" cy="390.4" r="0.78"/><circle cx="224.4" cy="384.3" r="0.78"/><circle cx="228.5" cy="385.5" r="0.78"/><circle cx="220.7" cy="384.4" r="0.78"/><circle cx="218.9" cy="395.5" r="0.78"/><circle cx="221.9" cy="390.4" r="0.78"/><circle cx="217.5" cy="395.0" r="0.78"/><circle cx="223.2" cy="388.6" r="0.78"/><circle cx="228.5" cy="392.8" r="0.78"/><circle cx="215.6" cy="388.5" r="0.78"/><circle cx="225.7" cy="391.9" r="0.78"/><circle cx="224.4" cy="393.4" r="0.78"/><circle cx="219.1" cy="397.2" r="0.78"/><circle cx="223.0" cy="385.1" r="0.78"/><circle cx="217.7" cy="388.0" r="0.78"/><circle cx="222.5" cy="390.6" r="0.78"/><circle cx="223.8" cy="394.0" r="0.78"/><circle cx="228.6" cy="390.1" r="0.78"/><circle cx="220.6" cy="389.4" r="0.78"/><circle cx="217.1" cy="395.9" r="0.78"/><circle cx="216.5" cy="386.5" r="0.78"/><circle cx="217.3" cy="396.2" r="0.78"/><circle cx="226.2" cy="390.2" r="0.78"/><circle cx="226.0" cy="388.8" r="0.78"/><circle cx="215.2" cy="396.6" r="0.78"/><circle cx="219.4" cy="386.3" r="0.78"/><circle cx="219.8" cy="387.2" r="0.78"/><circle cx="218.6" cy="395.3" r="0.78"/><circle cx="227.3" cy="396.2" r="0.78"/><circle cx="219.7" cy="389.3" r="0.78"/><circle cx="220.2" cy="391.3" r="0.78"/><circle cx="227.1" cy="396.7" r="0.78"/><circle cx="228.1" cy="389.3" r="0.78"/><circle cx="223.4" cy="391.5" r="0.78"/><circle cx="215.6" cy="394.2" r="0.78"/><circle cx="226.6" cy="383.7" r="0.78"/><circle cx="227.2" cy="393.3" r="0.78"/><circle cx="219.1" cy="385.6" r="0.78"/><circle cx="228.1" cy="389.0" r="0.78"/><circle cx="227.9" cy="390.6" r="0.78"/><circle cx="220.3" cy="394.3" r="0.78"/><circle cx="218.0" cy="387.1" r="0.78"/><circle cx="226.9" cy="393.4" r="0.78"/><circle cx="225.8" cy="390.8" r="0.78"/><circle cx="217.4" cy="394.3" r="0.78"/><circle cx="217.5" cy="392.7" r="0.78"/><circle cx="219.0" cy="383.0" r="0.78"/><circle cx="216.6" cy="389.6" r="0.78"/><circle cx="220.2" cy="390.1" r="0.78"/><circle cx="215.9" cy="392.0" r="0.78"/><circle cx="226.2" cy="395.9" r="0.78"/><circle cx="218.3" cy="392.8" r="0.78"/><circle cx="218.9" cy="395.0" r="0.78"/><circle cx="215.5" cy="394.4" r="0.78"/><circle cx="219.6" cy="388.0" r="0.78"/><circle cx="224.6" cy="395.5" r="0.78"/><circle cx="218.7" cy="396.2" r="0.78"/><circle cx="216.7" cy="385.3" r="0.78"/><circle cx="226.4" cy="391.4" r="0.78"/><circle cx="217.2" cy="385.7" r="0.78"/><circle cx="224.8" cy="392.8" r="0.78"/><circle cx="228.0" cy="392.4" r="0.78"/><circle cx="227.9" cy="394.8" r="0.78"/><circle cx="218.1" cy="390.5" r="0.78"/><circle cx="216.8" cy="391.3" r="0.78"/><circle cx="218.5" cy="387.3" r="0.78"/><circle cx="223.0" cy="384.2" r="0.78"/><circle cx="218.3" cy="392.5" r="0.78"/><circle cx="217.9" cy="388.9" r="0.78"/><circle cx="216.7" cy="384.6" r="0.78"/><circle cx="222.4" cy="390.4" r="0.78"/><circle cx="225.5" cy="393.9" r="0.78"/><circle cx="223.9" cy="392.3" r="0.78"/><circle cx="219.2" cy="389.5" r="0.78"/><circle cx="216.2" cy="392.2" r="0.78"/><circle cx="226.6" cy="395.2" r="0.78"/><circle cx="224.0" cy="393.2" r="0.78"/><circle cx="222.6" cy="396.1" r="0.78"/><circle cx="221.8" cy="392.6" r="0.78"/><circle cx="215.9" cy="393.6" r="0.78"/><circle cx="218.1" cy="393.4" r="0.78"/><circle cx="224.7" cy="395.8" r="0.78"/><circle cx="220.5" cy="393.8" r="0.78"/><circle cx="225.5" cy="384.0" r="0.78"/><circle cx="226.7" cy="384.5" r="0.78"/><circle cx="218.8" cy="395.8" r="0.78"/><circle cx="224.2" cy="396.9" r="0.78"/><circle cx="219.8" cy="388.0" r="0.78"/><circle cx="224.0" cy="391.9" r="0.78"/><circle cx="218.4" cy="387.5" r="0.78"/><circle cx="219.8" cy="385.1" r="0.78"/><circle cx="217.5" cy="388.6" r="0.78"/><circle cx="227.4" cy="396.0" r="0.78"/><circle cx="224.7" cy="386.9" r="0.78"/><circle cx="215.5" cy="396.8" r="0.78"/><circle cx="217.7" cy="395.4" r="0.78"/><circle cx="220.2" cy="393.5" r="0.78"/><circle cx="219.2" cy="396.8" r="0.78"/><circle cx="217.4" cy="388.4" r="0.78"/><circle cx="222.8" cy="385.2" r="0.78"/><circle cx="218.5" cy="387.2" r="0.78"/><circle cx="224.3" cy="391.6" r="0.78"/><circle cx="215.0" cy="392.8" r="0.78"/><circle cx="225.6" cy="385.3" r="0.78"/><circle cx="215.6" cy="393.7" r="0.78"/></g>
<polyline points="349.3,172.25 392.1,170.25 434.8,171.25 477.4,170.76" fill="none" stroke="#d67d78" stroke-width="0.85" stroke-opacity="0.2592"/>
<polyline points="349.3,173.15 392.1,170.75 434.8,171.27 477.4,170.42" fill="none" stroke="#d18168" stroke-width="0.85" stroke-opacity="0.2592"/>
<polyline points="349.3,173.33 392.1,169.31 434.8,171.16 477.4,174.12" fill="none" stroke="#cb8657" stroke-width="0.85" stroke-opacity="0.2592"/>
<polyline points="349.3,168.08 392.1,165.88 434.8,169.33 477.4,169.42" fill="none" stroke="#c38b47" stroke-width="0.85" stroke-opacity="0.2592"/>
<polyline points="349.3,172.30 392.1,173.42 434.8,173.49 477.4,173.05" fill="none" stroke="#ba8f37" stroke-width="0.85" stroke-opacity="0.2592"/>
<polyline points="349.3,173.39 392.1,171.47 434.8,172.55 477.4,170.54" fill="none" stroke="#b09428" stroke-width="0.85" stroke-opacity="0.2592"/>
<polyline points="349.3,171.20 392.1,168.93 434.8,171.35 477.4,172.05" fill="none" stroke="#a4981e" stroke-width="0.85" stroke-opacity="0.2592"/>
<polyline points="349.3,168.54 392.1,165.66 434.8,168.38 477.4,168.95" fill="none" stroke="#979c1f" stroke-width="0.85" stroke-opacity="0.2592"/>
<polyline points="349.3,171.94 392.1,172.90 434.8,170.30 477.4,171.95" fill="none" stroke="#87a02a" stroke-width="0.85" stroke-opacity="0.2592"/>
<polyline points="349.3,168.55 392.1,169.58 434.8,168.15 477.4,168.65" fill="none" stroke="#76a338" stroke-width="0.85" stroke-opacity="0.2592"/>
<polyline points="349.3,173.39 392.1,171.52 434.8,169.97 477.4,172.68" fill="none" stroke="#62a648" stroke-width="0.85" stroke-opacity="0.2592"/>
<polyline points="349.3,172.34 392.1,170.40 434.8,170.80 477.4,173.11" fill="none" stroke="#49a959" stroke-width="0.85" stroke-opacity="0.2592"/>
<polyline points="349.3,173.39 392.1,169.62 434.8,174.00 477.4,173.19" fill="none" stroke="#23ab69" stroke-width="0.85" stroke-opacity="0.2592"/>
<polyline points="349.3,172.12 392.1,173.58 434.8,170.64 477.4,173.47" fill="none" stroke="#00ac78" stroke-width="0.85" stroke-opacity="0.2592"/>
<polyline points="349.3,170.90 392.1,168.42 434.8,172.86 477.4,170.26" fill="none" stroke="#00ad87" stroke-width="0.85" stroke-opacity="0.2592"/>
<polyline points="349.3,173.03 392.1,171.47 434.8,173.47 477.4,173.01" fill="none" stroke="#00ae95" stroke-width="0.85" stroke-opacity="0.2592"/>
<polyline points="349.3,168.11 392.1,166.37 434.8,171.52 477.4,170.48" fill="none" stroke="#00ada3" stroke-width="0.85" stroke-opacity="0.2592"/>
<polyline points="349.3,169.31 392.1,168.09 434.8,172.33 477.4,167.97" fill="none" stroke="#00acaf" stroke-width="0.85" stroke-opacity="0.2592"/>
<polyline points="349.3,172.62 392.1,171.72 434.8,172.84 477.4,173.70" fill="none" stroke="#00aabb" stroke-width="0.85" stroke-opacity="0.2592"/>
<polyline points="349.3,172.44 392.1,170.62 434.8,173.38 477.4,171.53" fill="none" stroke="#00a7c5" stroke-width="0.85" stroke-opacity="0.2592"/>
<polyline points="349.3,172.86 392.1,170.38 434.8,171.11 477.4,169.65" fill="none" stroke="#00a3ce" stroke-width="0.85" stroke-opacity="0.2592"/>
<polyline points="349.3,172.39 392.1,172.80 434.8,169.91 477.4,170.31" fill="none" stroke="#419ed4" stroke-width="0.85" stroke-opacity="0.2592"/>
<polyline points="349.3,172.07 392.1,168.11 434.8,173.24 477.4,169.54" fill="none" stroke="#6499d9" stroke-width="0.85" stroke-opacity="0.2592"/>
<polyline points="349.3,168.08 392.1,168.23 434.8,170.69 477.4,172.03" fill="none" stroke="#7f93dc" stroke-width="0.85" stroke-opacity="0.2592"/>
<polyline points="349.3,173.22 392.1,170.07 434.8,173.43 477.4,170.61" fill="none" stroke="#958cdc" stroke-width="0.85" stroke-opacity="0.2592"/>
<polyline points="349.3,170.47 392.1,170.82 434.8,172.55 477.4,169.81" fill="none" stroke="#a786da" stroke-width="0.85" stroke-opacity="0.2592"/>
<polyline points="349.3,173.32 392.1,169.13 434.8,171.61 477.4,173.07" fill="none" stroke="#b780d6" stroke-width="0.85" stroke-opacity="0.2592"/>
<polyline points="349.3,168.08 392.1,170.42 434.8,172.60 477.4,171.18" fill="none" stroke="#c37bcf" stroke-width="0.85" stroke-opacity="0.2592"/>
<polyline points="349.3,170.97 392.1,170.82 434.8,170.95 477.4,172.90" fill="none" stroke="#cd77c7" stroke-width="0.85" stroke-opacity="0.2592"/>
<polyline points="349.3,171.61 392.1,168.08 434.8,169.14 477.4,170.65" fill="none" stroke="#d475bd" stroke-width="0.85" stroke-opacity="0.2592"/>
<polyline points="349.3,170.08 392.1,172.03 434.8,173.11 477.4,168.71" fill="none" stroke="#d974b1" stroke-width="0.85" stroke-opacity="0.2592"/>
<polyline points="349.3,169.93 392.1,166.70 434.8,173.07 477.4,169.97" fill="none" stroke="#db75a4" stroke-width="0.85" stroke-opacity="0.2592"/>
<polyline points="349.3,171.09 392.1,167.11 434.8,173.31 477.4,170.89" fill="none" stroke="#db7796" stroke-width="0.85" stroke-opacity="0.2592"/>
<polyline points="349.3,170.01 392.1,166.95 434.8,169.48 477.4,169.57" fill="none" stroke="#da7987" stroke-width="0.85" stroke-opacity="0.2592"/>
<polyline points="349.3,170.53 392.1,65.14 434.8,168.08 477.4,171.35" fill="none" stroke="#64a647" stroke-width="0.85" stroke-opacity="0.36"/>
<polyline points="349.3,171.35 392.1,94.96 434.8,170.53 477.4,172.16" fill="none" stroke="#00ac74" stroke-width="0.85" stroke-opacity="0.36"/>
<polyline points="349.3,135.40 392.1,113.34 434.8,168.90 477.4,172.98" fill="none" stroke="#db74a8" stroke-width="0.85" stroke-opacity="0.36"/>
<polyline points="349.3,172.16 392.1,126.41 434.8,170.94 477.4,172.98" fill="none" stroke="#d47f70" stroke-width="0.85" stroke-opacity="0.36"/>
<polyline points="349.3,170.53 392.1,140.30 434.8,170.53 477.4,172.16" fill="none" stroke="#c88851" stroke-width="0.85" stroke-opacity="0.36"/>
<polyline points="349.3,171.35 392.1,142.75 434.8,172.16 477.4,172.98" fill="none" stroke="#00adaa" stroke-width="0.85" stroke-opacity="0.36"/>
<polyline points="349.3,170.94 392.1,145.20 434.8,171.35 477.4,172.16" fill="none" stroke="#00aaba" stroke-width="0.85" stroke-opacity="0.36"/>
<polyline points="349.3,170.53 392.1,146.43 434.8,170.53 477.4,171.35" fill="none" stroke="#87a02a" stroke-width="0.85" stroke-opacity="0.36"/>
<polyline points="349.3,155.01 392.1,153.37 434.8,144.39 477.4,166.44" fill="none" stroke="#b89033" stroke-width="0.85" stroke-opacity="0.36"/>
<polyline points="349.3,170.53 392.1,157.46 434.8,169.71 477.4,171.35" fill="none" stroke="#18a2d0" stroke-width="0.85" stroke-opacity="0.36"/>
<polyline points="349.3,170.53 392.1,159.09 434.8,159.09 477.4,160.73" fill="none" stroke="#00a7c4" stroke-width="0.85" stroke-opacity="0.36"/>
<polyline points="349.3,157.05 392.1,159.91 434.8,171.59 477.4,146.02" fill="none" stroke="#d375bf" stroke-width="0.85" stroke-opacity="0.36"/>
<polyline points="349.3,171.35 392.1,166.44 434.8,170.53 477.4,160.32" fill="none" stroke="#ad9425" stroke-width="0.85" stroke-opacity="0.36"/>
<polyline points="349.3,177.07 392.1,177.31 434.8,177.72 477.4,178.13" fill="none" stroke="#db769b" stroke-width="0.85" stroke-opacity="0.36"/>
<polyline points="349.8,380.34 394.3,381.12 438.8,383.81 483.4,386.81" fill="none" stroke="#d67d78" stroke-width="0.85" stroke-opacity="0.272"/>
<polyline points="349.8,383.05 394.3,374.33 438.8,375.68 483.4,382.64" fill="none" stroke="#d2816a" stroke-width="0.85" stroke-opacity="0.272"/>
<polyline points="349.8,387.21 394.3,379.49 438.8,385.30 483.4,386.02" fill="none" stroke="#cc855b" stroke-width="0.85" stroke-opacity="0.272"/>
<polyline points="349.8,381.20 394.3,382.88 438.8,384.33 483.4,387.54" fill="none" stroke="#c6894c" stroke-width="0.85" stroke-opacity="0.272"/>
<polyline points="349.8,384.86 394.3,382.55 438.8,381.00 483.4,383.98" fill="none" stroke="#be8d3d" stroke-width="0.85" stroke-opacity="0.272"/>
<polyline points="349.8,380.26 394.3,379.30 438.8,384.22 483.4,382.55" fill="none" stroke="#b5912f" stroke-width="0.85" stroke-opacity="0.272"/>
<polyline points="349.8,386.46 394.3,381.26 438.8,380.06 483.4,384.79" fill="none" stroke="#ab9523" stroke-width="0.85" stroke-opacity="0.272"/>
<polyline points="349.8,393.99 394.3,387.52 438.8,393.50 483.4,393.96" fill="none" stroke="#a0991d" stroke-width="0.85" stroke-opacity="0.272"/>
<polyline points="349.8,380.48 394.3,380.31 438.8,375.52 483.4,380.80" fill="none" stroke="#949d20" stroke-width="0.85" stroke-opacity="0.272"/>
<polyline points="349.8,383.89 394.3,378.22 438.8,380.39 483.4,389.76" fill="none" stroke="#87a02a" stroke-width="0.85" stroke-opacity="0.272"/>
<polyline points="349.8,381.82 394.3,374.13 438.8,379.52 483.4,378.71" fill="none" stroke="#77a338" stroke-width="0.85" stroke-opacity="0.272"/>
<polyline points="349.8,385.99 394.3,391.64 438.8,388.87 483.4,393.87" fill="none" stroke="#66a646" stroke-width="0.85" stroke-opacity="0.272"/>
<polyline points="349.8,390.83 394.3,385.72 438.8,390.99 483.4,390.11" fill="none" stroke="#51a854" stroke-width="0.85" stroke-opacity="0.272"/>
<polyline points="349.8,390.99 394.3,390.05 438.8,391.06 483.4,385.04" fill="none" stroke="#34aa63" stroke-width="0.85" stroke-opacity="0.272"/>
<polyline points="349.8,378.39 394.3,374.73 438.8,373.87 483.4,376.67" fill="none" stroke="#00ac71" stroke-width="0.85" stroke-opacity="0.272"/>
<polyline points="349.8,393.99 394.3,393.99 438.8,393.99 483.4,391.00" fill="none" stroke="#00ad7e" stroke-width="0.85" stroke-opacity="0.272"/>
<polyline points="349.8,393.99 394.3,389.72 438.8,387.10 483.4,393.99" fill="none" stroke="#00ad8c" stroke-width="0.85" stroke-opacity="0.272"/>
<polyline points="349.8,392.10 394.3,389.05 438.8,393.99 483.4,393.99" fill="none" stroke="#00ae98" stroke-width="0.85" stroke-opacity="0.272"/>
<polyline points="349.8,387.19 394.3,388.41 438.8,378.47 483.4,386.25" fill="none" stroke="#00ada4" stroke-width="0.85" stroke-opacity="0.272"/>
<polyline points="349.8,393.99 394.3,390.18 438.8,387.56 483.4,392.87" fill="none" stroke="#00acaf" stroke-width="0.85" stroke-opacity="0.272"/>
<polyline points="349.8,382.88 394.3,378.30 438.8,385.57 483.4,380.32" fill="none" stroke="#00aaba" stroke-width="0.85" stroke-opacity="0.272"/>
<polyline points="349.8,389.82 394.3,389.10 438.8,391.42 483.4,384.67" fill="none" stroke="#00a7c3" stroke-width="0.85" stroke-opacity="0.272"/>
<polyline points="349.8,375.64 394.3,373.87 438.8,378.47 483.4,380.68" fill="none" stroke="#00a4cb" stroke-width="0.85" stroke-opacity="0.272"/>
<polyline points="349.8,391.63 394.3,392.07 438.8,390.95 483.4,386.43" fill="none" stroke="#2ca0d2" stroke-width="0.85" stroke-opacity="0.272"/>
<polyline points="349.8,378.66 394.3,386.13 438.8,384.05 483.4,379.15" fill="none" stroke="#539cd7" stroke-width="0.85" stroke-opacity="0.272"/>
<polyline points="349.8,393.59 394.3,393.99 438.8,393.99 483.4,393.99" fill="none" stroke="#6e97da" stroke-width="0.85" stroke-opacity="0.272"/>
<polyline points="349.8,388.57 394.3,393.99 438.8,386.96 483.4,393.29" fill="none" stroke="#8591dc" stroke-width="0.85" stroke-opacity="0.272"/>
<polyline points="349.8,383.67 394.3,373.87 438.8,378.49 483.4,383.73" fill="none" stroke="#988bdc" stroke-width="0.85" stroke-opacity="0.272"/>
<polyline points="349.8,393.99 394.3,390.44 438.8,392.93 483.4,393.99" fill="none" stroke="#a886da" stroke-width="0.85" stroke-opacity="0.272"/>
<polyline points="349.8,393.99 394.3,393.99 438.8,393.31 483.4,393.99" fill="none" stroke="#b681d6" stroke-width="0.85" stroke-opacity="0.272"/>
<polyline points="349.8,390.60 394.3,390.35 438.8,386.89 483.4,388.41" fill="none" stroke="#c27cd0" stroke-width="0.85" stroke-opacity="0.272"/>
<polyline points="349.8,381.79 394.3,385.69 438.8,377.93 483.4,384.31" fill="none" stroke="#cb78c9" stroke-width="0.85" stroke-opacity="0.272"/>
<polyline points="349.8,377.28 394.3,374.53 438.8,380.24 483.4,378.77" fill="none" stroke="#d276c1" stroke-width="0.85" stroke-opacity="0.272"/>
<polyline points="349.8,384.69 394.3,384.22 438.8,379.28 483.4,385.90" fill="none" stroke="#d774b7" stroke-width="0.85" stroke-opacity="0.272"/>
<polyline points="349.8,393.92 394.3,383.79 438.8,387.90 483.4,392.25" fill="none" stroke="#da74ac" stroke-width="0.85" stroke-opacity="0.272"/>
<polyline points="349.8,378.35 394.3,378.99 438.8,381.61 483.4,381.35" fill="none" stroke="#db75a0" stroke-width="0.85" stroke-opacity="0.272"/>
<polyline points="349.8,389.71 394.3,384.73 438.8,376.07 483.4,385.99" fill="none" stroke="#db7793" stroke-width="0.85" stroke-opacity="0.272"/>
<polyline points="349.8,390.27 394.3,381.05 438.8,390.31 483.4,388.65" fill="none" stroke="#d97a86" stroke-width="0.85" stroke-opacity="0.272"/>
<polyline points="349.8,371.86 394.3,336.16 438.8,373.25 483.4,378.90" fill="none" stroke="#d87b7f" stroke-width="0.85" stroke-opacity="0.34"/>
<polyline points="349.8,391.47 394.3,337.42 438.8,376.39 483.4,383.93" fill="none" stroke="#00abb5" stroke-width="0.85" stroke-opacity="0.34"/>
<polyline points="349.8,390.21 394.3,351.88 438.8,381.42 483.4,385.19" fill="none" stroke="#00ae90" stroke-width="0.85" stroke-opacity="0.34"/>
<polyline points="349.8,388.96 394.3,353.13 438.8,383.93 483.4,382.67" fill="none" stroke="#00ad9d" stroke-width="0.85" stroke-opacity="0.34"/>
<polyline points="349.8,387.70 394.3,354.39 438.8,380.16 483.4,386.44" fill="none" stroke="#c18c42" stroke-width="0.85" stroke-opacity="0.34"/>
<polyline points="349.8,386.44 394.3,357.53 438.8,383.93 483.4,385.19" fill="none" stroke="#d375bf" stroke-width="0.85" stroke-opacity="0.34"/>
<polyline points="349.8,383.93 394.3,368.85 438.8,385.19 483.4,387.70" fill="none" stroke="#959c20" stroke-width="0.85" stroke-opacity="0.34"/>
<polyline points="349.8,385.19 394.3,378.90 438.8,366.33 483.4,381.42" fill="none" stroke="#00a9bf" stroke-width="0.85" stroke-opacity="0.34"/>
<polyline points="349.8,381.42 394.3,377.64 438.8,367.59 483.4,362.56" fill="none" stroke="#d28169" stroke-width="0.85" stroke-opacity="0.34"/>
<polyline points="349.8,395.24 394.3,394.61 438.8,395.24 483.4,395.24" fill="none" stroke="#a2991e" stroke-width="0.85" stroke-opacity="0.34"/>
<polyline points="349.8,395.87 394.3,392.73 438.8,395.87 483.4,396.50" fill="none" stroke="#c27cd0" stroke-width="0.85" stroke-opacity="0.34"/>
</g>
</svg>
</body></html>
